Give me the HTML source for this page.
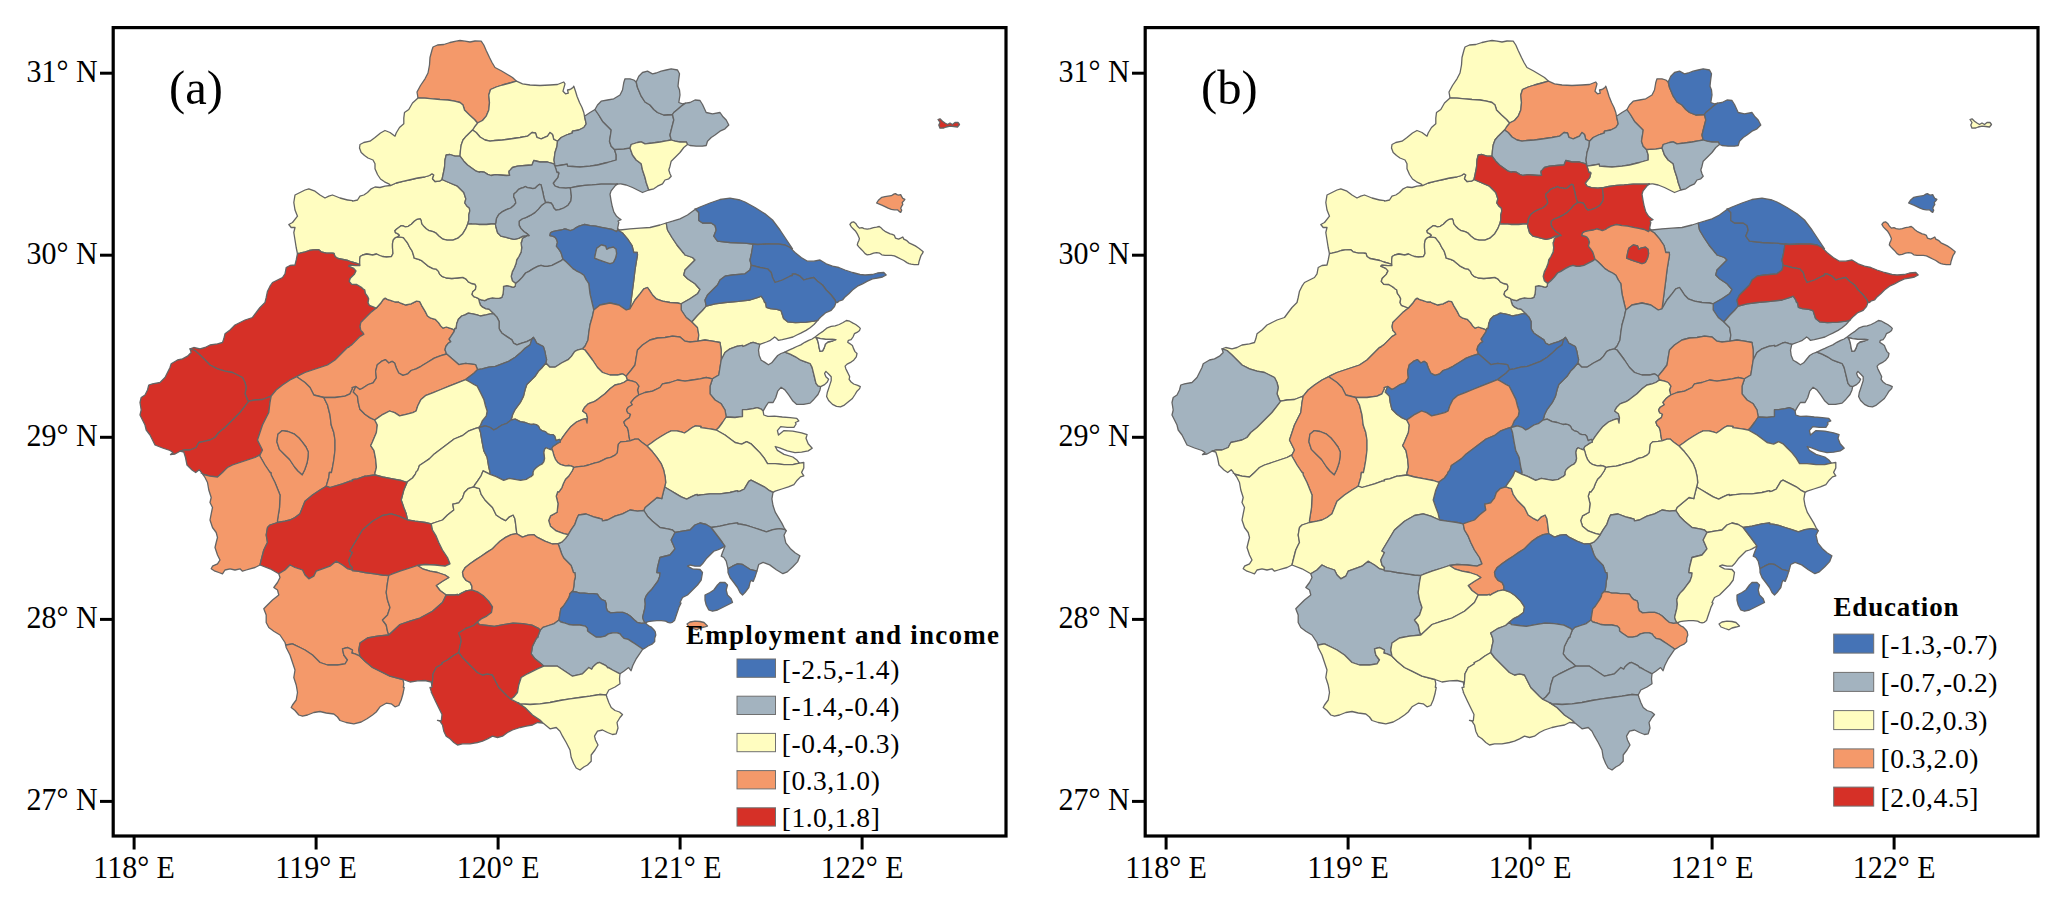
<!DOCTYPE html>
<html><head><meta charset="utf-8"><style>
html,body{margin:0;padding:0;background:#fff;}
svg{display:block;}
.ax{font-family:"Liberation Serif",serif;font-size:30px;fill:#000;}
.lt{font-family:"Liberation Serif",serif;font-size:27px;font-weight:bold;fill:#000;}
.ll{font-family:"Liberation Serif",serif;font-size:27.5px;fill:#000;}
.pl{font-family:"Liberation Serif",serif;font-size:48.5px;fill:#000;}
</style></head><body>
<svg width="2067" height="908" viewBox="0 0 2067 908">
<rect width="2067" height="908" fill="#fff"/>
<g transform="translate(0,0)" stroke="#646464" stroke-width="1.3" stroke-linejoin="round">
<path d="M347.7,200.0L347.5,200.0L340.0,198.0L332.5,195.0L328.8,196.2L325.0,198.0L320.0,195.0L315.0,191.2L308.8,188.8L305.0,190.0L300.0,192.5L295.0,195.0L293.8,202.5L295.0,210.0L297.5,216.2L292.5,222.5L288.8,224.5L291.2,227.5L295.0,227.5L293.8,232.5L295.0,240.0L296.2,247.5L297.2,252.5L297.5,253.5L297.5,253.5L300.0,253.1L305.3,251.8L309.3,250.5L313.2,249.8L318.5,249.6L321.1,251.8L326.4,253.1L329.0,253.1L331.7,253.1L332.5,253.4L332.6,253.2L334.0,253.5L335.0,256.5L337.9,258.5L342.9,259.5L347.8,260.5L351.8,262.0L356.8,263.4L359.7,264.5L359.7,259.5L360.2,256.5L362.7,255.0L366.7,254.0L369.7,254.5L372.6,255.0L376.6,254.0L379.6,255.5L382.5,256.5L386.5,257.0L391.5,256.5L393.0,253.5L392.5,247.6L392.5,243.6L393.4,239.7L395.4,237.7L397.4,237.2L399.4,235.2L398.4,234.2L395.4,232.7L394.9,230.7L396.4,229.2L398.4,227.8L401.4,225.6L403.4,226.0L405.3,226.8L408.3,226.3L411.3,224.3L414.3,221.3L417.2,219.3L420.2,218.8L421.2,220.8L421.7,223.8L424.2,226.8L426.2,228.7L429.1,230.7L433.1,231.7L436.1,233.2L439.1,236.2L443.0,239.2L447.0,240.2L452.9,240.2L457.9,238.2L462.8,233.7L465.8,228.7L467.8,223.8L468.8,219.8L468.8,214.9L469.8,210.9L469.3,207.9L466.8,205.9L464.8,203.0L465.0,202.1L465.8,199.0L465.9,199.0L463.8,192.5L457.5,186.2L450.0,183.0L442.0,179.5L439.5,181.2L435.0,181.5L432.5,178.8L433.8,175.0L432.0,173.8L429.5,175.5L424.5,177.0L417.5,178.0L411.2,179.5L403.8,181.2L396.2,183.0L390.5,185.5L385.0,186.2L380.0,187.5L375.0,187.0L371.2,188.8L367.5,192.5L363.8,195.0L360.0,196.2L357.5,200.0L352.6,201.2L352.5,200.7Z" fill="#FFFDC0"/>
<path d="M516.5,81.2L512.5,77.5L507.5,74.5L501.2,70.8L495.0,67.5L492.0,62.5L489.5,57.5L486.2,50.5L483.8,45.0L481.2,41.2L475.0,41.0L470.0,42.0L465.0,41.2L460.0,40.5L456.2,41.2L450.0,42.5L443.8,44.5L437.5,45.0L433.0,47.0L432.0,50.0L430.0,57.5L429.5,65.0L428.0,73.0L425.0,78.8L420.5,85.5L417.0,92.0L418.0,98.0L425.0,98.2L432.5,98.8L440.0,99.5L448.0,100.0L454.5,101.2L460.0,102.5L463.0,105.0L464.5,110.0L469.5,115.0L474.5,119.5L477.5,123.0L482.5,120.5L486.2,116.2L488.8,110.0L489.5,102.5L488.8,95.0L490.5,89.5L496.2,87.0L502.5,85.0L510.0,83.0Z" fill="#F4996A"/>
<path d="M570.0,89.5L567.5,90.0L568.3,93.1L565.5,93.8L563.0,91.2L565.0,83.8L563.8,82.0L557.5,84.5L550.0,85.0L540.0,85.5L530.0,85.0L522.5,83.8L516.5,81.2L510.0,83.0L502.5,85.0L496.2,87.0L490.5,89.5L488.8,95.0L489.5,102.5L488.8,110.0L486.2,116.2L482.5,120.5L477.5,123.0L475.0,126.2L472.5,130.0L476.2,132.5L480.0,137.0L485.0,140.0L490.0,141.2L495.0,140.5L502.5,140.0L510.0,139.0L520.0,137.5L527.5,136.2L532.0,132.5L535.5,133.0L537.0,137.5L541.2,138.8L547.5,136.2L550.0,132.5L552.5,134.5L553.8,139.5L557.5,141.2L561.2,137.5L567.5,134.5L568.2,134.3L572.5,132.8L572.3,131.3L572.5,131.2L578.8,130.0L583.8,127.5L586.2,123.8L584.5,116.2L583.8,112.5L582.0,107.5L579.5,102.5L577.0,96.2L575.5,91.2L573.8,86.2L573.0,87.5L571.4,88.6Z" fill="#FFFDC0"/>
<path d="M418.0,98.0L412.5,103.0L408.8,109.5L404.5,112.5L403.8,118.0L403.8,123.8L399.5,127.5L396.2,133.0L395.0,136.2L390.0,132.5L385.0,130.5L380.5,133.0L375.0,137.5L370.0,141.2L363.8,142.5L360.0,144.5L359.5,148.0L361.2,152.5L364.5,155.5L368.0,158.0L373.0,160.0L375.0,163.8L375.0,168.8L377.5,174.5L380.5,179.0L384.5,181.8L388.8,183.8L390.5,185.5L396.2,183.0L403.8,181.2L411.2,179.5L417.5,178.0L424.5,177.0L429.5,175.5L432.0,173.8L433.8,175.0L432.5,178.8L435.0,181.5L439.5,181.2L442.0,179.5L443.0,175.0L444.5,167.5L445.0,160.0L446.2,155.0L450.0,154.5L455.0,156.2L460.0,156.2L460.5,150.0L461.2,145.0L463.0,140.0L466.2,136.2L470.0,132.5L472.5,130.0L475.0,126.2L477.5,123.0L474.5,119.5L469.5,115.0L464.5,110.0L463.0,105.0L460.0,102.5L454.5,101.2L448.0,100.0L440.0,99.5L432.5,98.8L425.0,98.2Z" fill="#FFFDC0"/>
<path d="M470.0,132.5L466.2,136.2L463.0,140.0L461.2,145.0L460.5,150.0L460.0,156.2L463.8,161.2L467.5,165.0L472.0,168.2L476.2,171.2L479.8,172.3L480.0,171.7L482.6,172.0L484.4,172.2L487.7,174.4L491.0,175.5L495.4,174.6L499.8,175.0L506.4,175.5L509.7,175.3L509.2,173.3L509.0,172.5L509.2,172.5L509.0,171.2L510.3,169.9L512.5,167.5L517.5,166.2L525.0,165.5L532.0,165.0L533.8,160.5L540.0,162.0L547.5,162.0L553.8,163.8L555.0,166.2L554.0,160.0L555.0,152.5L557.0,146.2L557.5,141.2L553.8,139.5L552.5,134.5L550.0,132.5L547.5,136.2L541.2,138.8L537.0,137.5L535.5,133.0L532.0,132.5L527.5,136.2L520.0,137.5L510.0,139.0L502.5,140.0L495.0,140.5L490.0,141.2L485.0,140.0L480.0,137.0L476.2,132.5L472.5,130.0Z" fill="#FFFDC0"/>
<path d="M567.5,134.5L561.2,137.5L557.5,141.2L557.0,146.2L555.0,152.5L554.0,160.0L555.0,166.2L562.5,165.0L567.2,164.2L567.5,166.2L572.4,166.5L580.0,167.0L590.0,166.2L597.5,165.0L607.5,162.5L616.2,160.0L616.2,155.0L614.5,149.5L611.2,146.2L609.5,141.2L610.5,135.0L611.2,130.0L607.5,126.2L602.5,121.2L598.8,115.0L595.0,109.5L590.0,112.5L584.5,116.2L586.2,123.8L583.8,127.5L578.8,130.0L572.5,131.2L572.3,131.3L572.5,132.8L568.2,134.3Z" fill="#A3B3BF"/>
<path d="M558.8,173.3L557.7,177.7L554.9,181.0L553.2,183.2L554.9,186.0L559.3,187.6L565.9,188.2L570.3,187.7L570.3,187.7L571.4,187.6L576.9,186.5L584.6,185.4L592.3,184.9L601.2,184.1L610.0,184.1L616.6,183.8L617.1,183.7L617.4,184.1L617.5,184.2L620.0,183.8L620.8,183.9L626.2,185.0L632.5,187.5L637.5,190.0L642.5,192.5L648.8,190.0L646.2,182.5L645.0,177.5L642.5,170.0L641.2,163.8L636.2,160.0L632.5,155.0L630.0,148.0L623.8,148.8L614.5,149.5L616.2,155.0L616.2,160.0L607.5,162.5L597.5,165.0L590.0,166.2L580.0,167.0L572.4,166.5L567.5,166.2L567.2,164.2L562.5,165.0L555.0,166.2L556.1,169.6L557.0,172.5L558.6,172.3Z" fill="#A3B3BF"/>
<path d="M479.8,172.3L476.2,171.2L472.0,168.2L467.5,165.0L463.8,161.2L460.0,156.2L455.0,156.2L450.0,154.5L446.2,155.0L445.0,160.0L444.5,167.5L443.0,175.0L442.0,179.5L450.0,183.0L457.5,186.2L463.8,192.5L465.9,199.0L465.8,199.0L465.0,202.1L464.8,203.0L466.8,205.9L469.3,207.9L469.8,210.9L468.8,214.9L468.8,219.8L467.8,223.8L471.8,224.0L475.7,224.1L478.9,224.4L478.9,224.5L480.0,224.5L480.7,224.6L480.7,224.5L486.6,224.5L491.0,224.0L495.4,224.0L496.0,222.9L496.5,218.5L498.7,214.6L502.0,211.9L506.4,209.7L510.8,208.0L514.1,205.2L515.8,203.0L515.2,199.7L513.6,196.4L514.1,193.7L516.3,192.0L518.6,189.3L521.3,188.2L523.5,187.6L525.2,186.5L527.4,187.6L530.7,188.2L532.9,188.7L535.1,188.2L537.3,186.0L539.5,184.3L541.1,184.9L541.7,187.6L542.8,192.0L543.9,197.5L545.5,202.5L548.3,202.5L551.0,203.0L552.7,205.2L553.8,208.0L556.0,210.2L559.3,209.7L563.7,208.0L568.1,205.2L570.9,200.8L571.4,196.4L570.9,192.0L570.3,187.7L570.3,187.7L565.9,188.2L559.3,187.6L554.9,186.0L553.2,183.2L554.9,181.0L557.7,177.7L558.8,173.3L558.6,172.3L557.0,172.5L556.1,169.6L555.0,166.2L553.8,163.8L547.5,162.0L540.0,162.0L533.8,160.5L532.0,165.0L525.0,165.5L517.5,166.2L512.5,167.5L510.3,169.9L509.0,171.2L509.2,172.5L509.0,172.5L509.2,173.3L509.7,175.3L506.4,175.5L499.8,175.0L495.4,174.6L491.0,175.5L487.7,174.4L484.4,172.2L482.6,172.0L480.0,171.7Z" fill="#A3B3BF"/>
<path d="M636.2,82.0L633.8,80.0L630.0,78.8L625.0,78.8L623.8,82.5L622.5,90.0L620.0,95.0L613.8,98.8L607.5,100.0L601.2,101.2L597.5,105.0L595.0,109.5L598.8,115.0L602.5,121.2L607.5,126.2L611.2,130.0L610.5,135.0L609.5,141.2L611.2,146.2L614.5,149.5L623.8,148.8L630.0,148.0L631.2,144.5L637.5,142.5L641.2,141.8L645.0,143.8L652.5,143.0L660.0,142.0L666.2,140.8L671.2,140.0L670.0,135.0L671.2,130.0L672.5,125.0L673.8,120.0L672.5,114.5L663.8,115.0L657.5,112.5L653.8,109.5L650.0,105.0L645.0,102.0L641.2,96.2L637.5,87.5Z" fill="#A3B3BF"/>
<path d="M685.5,103.2L682.5,103.8L678.8,102.5L680.0,95.0L679.5,90.0L678.0,86.2L678.8,78.8L679.5,73.8L677.5,70.0L671.2,68.8L666.2,70.0L661.2,71.2L656.2,73.0L652.5,73.8L647.5,71.2L642.5,72.5L638.8,76.2L636.2,82.0L637.5,87.5L641.2,96.2L645.0,102.0L650.0,105.0L653.8,109.5L657.5,112.5L663.8,115.0L672.5,114.5L673.8,112.5L677.5,109.5L681.2,106.2Z" fill="#A3B3BF"/>
<path d="M687.5,144.5L690.0,145.5L696.2,146.2L702.5,146.2L706.2,145.5L707.5,141.2L711.2,137.5L715.0,135.0L720.0,131.2L725.0,128.8L728.8,125.0L726.2,120.0L722.5,116.2L720.0,112.5L712.5,113.8L706.2,112.5L702.5,104.5L700.0,100.5L695.0,100.0L690.0,102.5L685.5,103.2L681.2,106.2L677.5,109.5L673.8,112.5L672.5,114.5L673.8,120.0L672.5,125.0L671.2,130.0L670.0,135.0L671.2,140.0L675.0,141.2L680.0,142.0L686.2,141.8Z" fill="#A3B3BF"/>
<path d="M648.8,190.0L653.8,188.8L657.5,186.2L662.5,183.8L665.0,180.0L668.8,178.8L671.2,176.2L670.0,173.8L668.8,170.0L670.0,166.2L671.2,161.2L675.0,157.5L680.0,152.5L683.8,147.5L687.5,144.5L686.2,141.8L680.0,142.0L675.0,141.2L671.2,140.0L666.2,140.8L660.0,142.0L652.5,143.0L645.0,143.8L641.2,141.8L637.5,142.5L631.2,144.5L630.0,148.0L632.5,155.0L636.2,160.0L641.2,163.8L642.5,170.0L645.0,177.5L646.2,182.5Z" fill="#FFFDC0"/>
<path d="M621.0,219.6L619.3,218.5L619.0,218.2L616.6,216.3L613.8,211.9L612.2,206.3L611.1,200.8L610.0,194.2L611.1,190.9L615.5,185.4L617.4,184.1L617.1,183.7L616.6,183.8L610.0,184.1L601.2,184.1L592.3,184.9L584.6,185.4L576.9,186.5L571.4,187.6L570.3,187.7L570.9,192.0L571.4,196.4L570.9,200.8L568.1,205.2L563.7,208.0L559.3,209.7L556.0,210.2L553.8,208.0L552.7,205.2L551.0,203.0L548.3,202.5L545.5,202.5L541.7,205.2L538.4,209.1L535.1,212.4L530.7,215.2L526.3,217.4L521.9,219.0L519.1,221.2L519.1,225.1L520.8,228.4L524.1,231.7L527.4,233.9L529.0,235.5L527.4,235.5L526.2,235.7L526.3,236.1L522.4,238.3L522.2,239.2L521.4,242.5L521.1,242.5L521.1,243.3L521.7,247.7L521.1,252.1L518.9,256.5L516.7,259.8L516.2,263.1L514.5,267.5L512.3,271.9L511.2,276.3L512.3,280.7L515.6,283.5L518.9,280.7L522.2,277.4L525.6,273.0L528.9,271.4L533.3,268.6L537.7,266.4L541.0,265.3L544.3,266.4L547.6,266.4L552.0,265.3L556.4,263.1L560.8,260.9L563.0,259.3L561.9,255.4L560.8,252.1L558.6,248.8L556.4,246.1L557.4,242.6L557.5,242.2L556.4,238.9L556.3,239.0L554.9,237.2L552.7,236.1L549.9,235.5L550.5,232.8L552.7,231.7L557.1,230.6L561.5,230.0L564.8,228.9L567.0,229.5L570.3,230.6L573.6,229.5L575.8,227.8L579.1,226.2L582.4,225.1L584.6,224.5L590.1,225.6L595.7,226.2L601.2,227.3L606.7,228.4L612.2,229.5L616.6,231.7L617.6,230.0L617.5,230.0L618.0,229.0L617.5,228.8L618.8,222.5L618.0,221.0Z" fill="#A3B3BF"/>
<path d="M633.8,252.5L637.3,252.3L637.5,255.0L636.2,262.5L635.0,270.0L633.8,280.0L632.5,290.0L631.2,300.0L630.0,308.8L635.0,300.0L640.0,293.8L643.8,288.8L647.5,287.5L650.0,291.2L652.5,295.0L656.2,298.8L662.5,301.2L670.0,302.5L677.5,303.0L681.2,303.8L690.0,298.8L697.5,293.8L700.0,289.5L695.0,283.8L687.5,278.8L683.8,275.0L685.0,270.0L690.0,265.0L695.0,260.0L692.5,257.5L685.0,255.0L683.2,252.3L682.8,252.5L682.0,251.2L679.4,248.0L677.0,245.0L672.0,237.5L667.5,230.0L666.2,223.0L660.0,225.0L650.0,227.5L640.0,228.2L630.0,228.8L620.0,230.0L618.0,229.0L617.5,230.0L617.6,230.0L622.5,233.0L627.5,238.8L632.0,245.5L632.8,248.6Z" fill="#FFFDC0"/>
<path d="M682.0,251.2L682.8,252.5L683.2,252.3L685.0,255.0L692.5,257.5L695.0,260.0L690.0,265.0L685.0,270.0L683.8,275.0L687.5,278.8L695.0,283.8L700.0,289.5L697.5,293.8L690.0,298.8L681.2,303.8L681.2,310.0L686.2,317.5L691.9,322.0L692.5,321.2L697.5,315.5L702.5,310.5L706.2,306.2L705.0,300.0L707.5,295.0L712.5,290.0L717.5,285.0L720.0,280.0L725.0,276.2L732.5,275.0L745.0,273.8L750.0,270.0L751.2,265.3L751.2,265.0L750.0,260.0L751.2,255.0L752.5,247.5L752.8,244.0L745.0,243.2L730.0,242.5L717.5,241.2L713.8,236.2L716.2,230.0L715.0,225.5L711.2,223.0L702.5,223.0L698.8,220.5L698.8,212.5L695.5,209.2L695.0,208.8L695.3,209.4L695.0,209.5L687.5,215.0L680.0,218.8L672.5,221.2L666.2,223.0L667.5,230.0L672.0,237.5L677.0,245.0L679.4,248.0Z" fill="#A3B3BF"/>
<path d="M792.5,248.8L790.0,245.0L785.0,237.5L780.0,230.0L772.5,220.0L765.0,213.8L755.0,207.5L745.0,202.0L740.0,200.0L730.0,198.2L720.0,199.5L710.0,203.0L700.0,207.0L695.5,209.2L698.8,212.5L698.8,220.5L702.5,223.0L711.2,223.0L715.0,225.5L716.2,230.0L713.8,236.2L717.5,241.2L730.0,242.5L745.0,243.2L752.8,244.0L757.5,244.5L767.5,244.0L777.5,243.8L785.0,245.0L790.0,247.5L791.9,249.4Z" fill="#4573B6"/>
<path d="M627.5,238.8L622.5,233.0L617.6,230.0L616.6,231.7L612.2,229.5L606.7,228.4L601.2,227.3L595.7,226.2L590.1,225.6L584.6,224.5L582.4,225.1L579.1,226.2L575.8,227.8L573.6,229.5L570.3,230.6L567.0,229.5L564.8,228.9L561.5,230.0L557.1,230.6L552.7,231.7L550.5,232.8L549.9,235.5L552.7,236.1L554.9,237.2L556.3,239.0L556.4,238.9L557.5,242.2L557.4,242.6L556.4,246.1L558.6,248.8L560.8,252.1L561.9,255.4L563.0,259.3L566.3,262.0L569.6,265.3L572.9,268.6L576.2,270.8L580.6,273.0L583.9,275.2L586.1,279.6L586.7,280.5L588.3,283.0L588.5,283.0L588.8,283.8L589.7,291.4L590.0,293.8L592.0,302.5L593.1,307.2L593.8,310.0L600.0,305.0L610.0,303.0L618.8,305.0L626.2,310.0L630.0,308.8L631.2,300.0L632.5,290.0L633.8,280.0L635.0,270.0L636.2,262.5L637.5,255.0L637.3,252.3L633.8,252.5L632.8,248.6L632.0,245.5ZM596.8,248.2L601.2,244.9L605.6,246.0L606.7,249.3L608.9,248.2L613.3,247.1L616.0,249.3L616.6,253.7L615.5,258.1L613.3,262.5L610.0,263.6L606.7,262.5L603.4,261.4L599.0,259.8L594.6,258.1L595.7,252.6Z" fill="#4573B6"/>
<path d="M777.5,243.8L767.5,244.0L757.5,244.5L752.8,244.0L752.5,247.5L751.2,255.0L750.0,260.0L751.2,265.0L751.2,265.3L751.8,265.4L760.0,267.5L767.5,268.8L771.2,272.5L772.5,277.5L775.0,282.5L782.5,280.0L788.5,277.0L790.0,276.2L792.5,275.5L792.3,274.2L795.0,273.8L800.0,276.2L803.8,280.0L807.5,278.8L813.8,277.5L817.5,281.2L822.5,285.0L826.2,290.0L831.2,295.0L835.0,300.0L835.8,302.5L836.0,302.6L836.2,302.0L837.5,302.5L838.8,301.2L842.5,300.0L844.5,297.5L848.8,293.8L852.5,290.0L857.5,286.2L862.5,283.8L867.5,281.2L872.5,278.8L877.5,278.0L882.5,277.0L886.2,275.0L883.8,272.5L877.5,273.0L872.5,274.5L865.0,275.0L860.0,274.5L852.5,272.5L845.0,270.0L838.8,267.5L832.5,266.2L826.2,263.8L820.0,260.0L813.8,261.2L807.5,261.2L801.2,257.5L795.0,252.5L791.9,249.4L790.0,247.5L785.0,245.0Z" fill="#4573B6"/>
<path d="M938.0,119.5L940.0,122.5L938.8,125.0L940.0,128.2L943.8,128.0L946.2,127.0L950.0,126.2L953.8,126.5L957.5,127.0L959.5,124.5L958.0,122.5L955.0,122.5L952.5,124.5L950.0,123.0L947.5,124.5L945.0,123.0L942.5,121.2L940.0,118.8Z" fill="#D63027"/>
<path d="M592.0,302.5L590.0,293.8L589.7,291.4L588.8,283.8L588.5,283.0L588.3,283.0L586.7,280.5L586.1,279.6L583.9,275.2L580.6,273.0L576.2,270.8L572.9,268.6L569.6,265.3L566.3,262.0L563.0,259.3L560.8,260.9L556.4,263.1L552.0,265.3L547.6,266.4L544.3,266.4L541.0,265.3L537.7,266.4L533.3,268.6L528.9,271.4L525.6,273.0L522.2,277.4L518.9,280.7L515.6,283.5L515.1,286.3L513.4,287.4L510.1,286.3L506.8,285.7L503.5,286.3L503.5,289.6L503.0,294.0L501.9,297.3L499.1,298.4L495.8,298.4L492.5,297.8L488.1,298.9L484.8,300.6L481.5,300.0L478.7,298.9L479.3,301.7L480.4,305.0L482.6,307.2L485.9,308.8L489.2,309.4L492.5,312.7L493.6,313.8L496.9,317.1L499.1,321.5L499.1,328.1L499.1,328.2L499.7,329.9L501.4,332.4L502.0,333.3L506.9,336.6L511.9,339.9L513.6,343.2L516.9,344.9L521.8,343.2L526.8,341.6L531.7,339.1L533.4,337.4L535.0,339.9L536.7,343.2L540.0,344.9L543.3,346.5L544.9,351.5L545.8,356.4L546.6,359.7L545.8,363.0L549.9,367.2L554.9,367.2L561.5,363.0L568.1,359.7L571.4,356.4L574.6,351.6L574.7,351.5L575.4,351.1L577.5,350.0L579.0,349.6L582.5,348.8L585.0,346.2L588.0,340.0L588.8,332.5L590.0,325.0L591.6,319.3L592.5,316.2L592.9,314.1L593.8,310.0L593.1,307.2Z" fill="#A3B3BF"/>
<path d="M590.0,325.0L588.8,332.5L588.0,340.0L585.0,346.2L582.5,348.8L585.0,350.0L588.8,355.0L592.5,360.0L597.5,367.5L602.5,372.5L610.0,375.0L617.5,375.0L622.5,373.8L626.2,376.2L631.2,370.0L635.0,365.0L636.2,357.5L637.5,350.0L642.5,345.0L650.0,340.0L657.5,338.0L665.0,337.5L672.5,336.2L680.0,337.0L685.0,341.2L690.0,342.0L698.0,341.2L698.8,335.0L697.5,327.5L692.5,322.5L691.9,322.0L686.2,317.5L681.2,310.0L681.2,303.8L677.5,303.0L670.0,302.5L662.5,301.2L656.2,298.8L652.5,295.0L650.0,291.2L647.5,287.5L643.8,288.8L640.0,293.8L635.0,300.0L630.0,308.8L626.2,310.0L618.8,305.0L610.0,303.0L600.0,305.0L593.8,310.0L592.9,314.1L592.5,316.2L591.6,319.3Z" fill="#F4996A"/>
<path d="M577.5,350.0L575.4,351.1L574.7,351.5L574.6,351.6L571.4,356.4L568.1,359.7L561.5,363.0L554.9,367.2L549.9,367.2L545.8,363.0L541.6,368.0L538.3,371.3L535.0,376.3L531.7,379.6L526.8,384.5L525.1,389.5L523.5,396.1L520.2,402.7L515.2,409.3L512.7,414.3L511.1,420.0L515.2,419.2L520.2,421.7L525.1,422.5L529.5,424.0L530.1,424.2L531.1,424.5L532.4,424.3L533.1,424.2L536.2,424.6L538.5,426.2L540.0,429.2L542.3,430.8L545.4,431.6L547.7,433.9L550.0,434.6L553.1,434.6L554.7,436.2L555.4,438.5L556.2,440.8L557.7,440.0L559.3,439.3L560.1,440.8L560.1,441.1L561.6,438.9L563.3,436.3L566.6,431.9L571.0,426.4L576.5,422.0L582.0,419.6L585.9,418.7L587.0,423.1L587.5,417.6L586.4,413.8L582.6,411.0L584.8,407.2L588.1,403.9L591.9,402.4L592.8,402.1L595.1,401.1L595.2,401.1L595.3,401.0L596.9,399.9L600.0,397.5L605.0,393.8L610.0,388.8L615.0,385.0L620.0,383.8L623.8,382.5L627.5,380.0L626.2,376.2L622.5,373.8L617.5,375.0L610.0,375.0L602.5,372.5L597.5,367.5L592.5,360.0L588.8,355.0L585.0,350.0L582.5,348.8L579.0,349.6Z" fill="#FFFDC0"/>
<path d="M750.0,300.0L740.0,301.2L738.4,301.4L725.0,302.5L715.0,303.8L706.2,306.2L702.5,310.5L697.5,315.5L692.5,321.2L691.9,322.0L692.5,322.5L697.5,327.5L698.8,335.0L698.0,341.2L705.0,340.0L712.5,341.2L720.0,342.5L721.2,350.0L721.2,360.0L725.0,352.5L730.0,348.8L737.5,346.2L738.4,346.1L742.5,345.4L742.9,346.5L745.3,345.6L750.6,343.0L753.2,342.3L757.2,343.6L759.8,344.3L762.5,343.4L766.4,342.0L770.4,340.3L773.1,338.3L774.6,337.0L776.4,338.3L778.3,340.3L782.3,339.7L787.6,338.3L792.9,337.0L796.8,335.0L800.8,333.1L806.1,330.4L810.1,327.8L814.0,324.5L818.0,320.1L814.0,321.2L806.1,322.2L795.5,322.7L787.6,321.8L783.6,318.5L782.3,314.5L781.0,310.6L777.0,309.3L770.4,308.6L766.4,307.3L765.8,304.0L765.6,302.4L764.6,302.5L763.8,300.0L763.6,299.7L761.2,296.2L758.1,297.3Z" fill="#FFFDC0"/>
<path d="M715.0,303.8L725.0,302.5L738.4,301.4L740.0,301.2L750.0,300.0L758.1,297.3L761.2,296.2L763.6,299.7L763.8,300.0L764.6,302.5L765.6,302.4L765.8,304.0L766.4,307.3L770.4,308.6L777.0,309.3L781.0,310.6L782.3,314.5L783.6,318.5L787.6,321.8L795.5,322.7L806.1,322.2L814.0,321.2L818.0,320.1L819.3,318.5L822.0,315.9L825.9,312.6L831.2,310.3L834.5,306.6L836.0,302.6L835.8,302.5L835.0,300.0L831.2,295.0L826.2,290.0L822.5,285.0L817.5,281.2L813.8,277.5L807.5,278.8L803.8,280.0L800.0,276.2L795.0,273.8L792.3,274.2L792.5,275.5L790.0,276.2L788.5,277.0L782.5,280.0L775.0,282.5L772.5,277.5L771.2,272.5L767.5,268.8L760.0,267.5L751.8,265.4L751.2,265.3L750.0,270.0L745.0,273.8L732.5,275.0L725.0,276.2L720.0,280.0L717.5,285.0L712.5,290.0L707.5,295.0L705.0,300.0L706.2,306.2Z" fill="#4573B6"/>
<path d="M698.0,341.2L690.0,342.0L685.0,341.2L680.0,337.0L672.5,336.2L665.0,337.5L657.5,338.0L650.0,340.0L642.5,345.0L637.5,350.0L636.2,357.5L635.0,365.0L631.2,370.0L626.2,376.2L627.5,380.0L632.5,381.2L636.2,382.5L638.8,386.2L637.5,390.0L638.8,395.0L645.0,392.5L652.5,391.2L660.0,387.5L662.5,383.8L670.0,382.5L677.5,380.0L685.0,381.2L692.5,380.0L700.0,378.8L706.2,377.5L712.5,378.8L718.8,375.0L720.0,367.5L721.2,360.0L721.2,350.0L720.0,342.5L712.5,341.2L705.0,340.0Z" fill="#F4996A"/>
<path d="M737.5,346.2L730.0,348.8L725.0,352.5L721.2,360.0L720.0,367.5L718.8,375.0L712.5,378.8L710.0,386.2L710.0,393.8L715.0,400.0L721.2,403.8L725.0,410.0L726.2,417.0L735.0,417.5L739.6,416.9L742.5,416.6L742.5,409.7L746.6,409.7L753.2,408.7L757.2,407.7L761.2,409.1L763.1,411.1L765.8,406.4L768.4,402.5L773.1,402.5L775.7,397.8L777.7,391.2L781.0,387.3L784.9,389.9L788.9,395.2L792.9,401.1L796.8,404.4L803.5,404.4L810.1,403.1L814.0,399.2L818.0,394.5L820.0,389.9L820.6,386.6L818.0,385.9L816.0,383.3L814.7,378.0L813.4,372.7L812.1,367.4L810.1,363.5L806.1,362.1L800.8,360.2L795.5,356.8L790.2,354.2L784.9,352.2L781.0,353.5L777.7,355.5L774.4,359.5L771.7,362.8L768.4,364.8L764.5,362.1L761.2,360.2L759.2,355.5L758.5,350.2L759.8,344.3L757.2,343.6L753.2,342.3L750.6,343.0L745.3,345.6L742.9,346.5L742.5,345.4L738.4,346.1Z" fill="#A3B3BF"/>
<path d="M591.9,402.4L588.1,403.9L584.8,407.2L582.6,411.0L586.4,413.8L587.5,417.6L587.0,423.1L585.9,418.7L582.0,419.6L576.5,422.0L571.0,426.4L566.6,431.9L563.3,436.3L561.6,438.9L560.1,441.1L560.4,442.0L559.3,442.5L557.7,443.1L555.4,444.7L553.1,446.2L551.6,448.5L552.4,450.1L553.1,452.4L553.9,455.5L555.4,459.3L557.7,462.4L559.2,463.5L560.4,464.4L562.2,465.0L562.7,465.1L565.5,465.8L568.8,465.5L571.6,466.1L573.8,467.4L575.4,467.2L578.7,466.6L584.2,466.1L588.6,465.0L591.9,463.9L595.2,462.8L598.6,462.2L601.9,460.6L606.3,458.4L610.7,457.3L615.1,455.1L617.3,452.9L617.8,448.5L618.4,444.1L620.6,441.9L626.1,441.3L629.9,440.8L628.8,435.2L628.3,430.8L627.2,427.5L625.0,425.3L623.9,422.0L626.1,419.8L629.4,417.6L630.5,414.3L627.7,412.7L626.6,409.9L628.3,407.2L632.3,404.7L630.9,402.5L633.8,398.8L637.2,396.1L638.8,395.0L637.5,390.0L638.8,386.2L636.2,382.5L632.5,381.2L627.5,380.0L623.8,382.5L620.0,383.8L615.0,385.0L610.0,388.8L605.0,393.8L600.0,397.5L596.9,399.9L595.3,401.0L595.2,401.1L595.1,401.1L592.8,402.1Z" fill="#F4996A"/>
<path d="M633.8,398.8L630.9,402.5L632.3,404.7L628.3,407.2L626.6,409.9L627.7,412.7L630.5,414.3L629.4,417.6L626.1,419.8L623.9,422.0L625.0,425.3L627.2,427.5L628.3,430.8L628.8,435.2L629.9,440.8L634.9,439.1L638.2,439.1L641.5,441.9L647.0,446.0L651.4,443.0L655.8,439.7L661.3,436.3L666.8,433.0L671.2,430.8L676.8,430.8L681.2,431.9L684.5,433.0L687.8,430.8L692.2,427.5L695.5,425.9L697.7,426.1L701.0,426.4L700.8,427.6L710.0,428.8L716.2,430.0L718.8,427.5L722.5,422.5L726.2,417.0L725.0,410.0L721.2,403.8L715.0,400.0L710.0,393.8L710.0,386.2L712.5,378.8L706.2,377.5L700.0,378.8L692.5,380.0L685.0,381.2L677.5,380.0L670.0,382.5L662.5,383.8L660.0,387.5L652.5,391.2L645.0,392.5L638.8,395.0L637.2,396.1Z" fill="#F4996A"/>
<path d="M798.8,421.0L796.8,418.3L790.2,417.7L782.3,417.0L774.4,416.1L769.2,416.3L767.8,416.3L763.8,415.0L763.1,411.1L761.2,409.1L757.2,407.7L753.2,408.7L746.6,409.7L742.5,409.7L742.5,416.6L739.6,416.9L735.0,417.5L726.2,417.0L722.5,422.5L718.8,427.5L716.2,430.0L725.0,435.0L735.0,442.5L738.4,443.3L741.6,444.1L742.2,443.8L746.6,441.6L751.0,443.8L755.4,448.2L759.8,452.6L764.2,458.1L767.5,463.6L775.2,463.6L784.0,464.7L792.8,464.7L799.4,463.2L797.2,460.3L792.8,457.0L784.0,454.4L777.4,450.4L775.2,446.5L779.6,447.8L787.3,450.9L795.0,452.6L801.6,452.2L808.2,450.9L812.2,448.2L808.2,443.8L806.0,438.3L807.1,434.6L801.6,432.8L792.8,431.1L784.0,430.6L778.5,435.0L777.4,430.6L780.7,426.7L787.3,427.3L793.9,427.3L796.1,424.0L795.4,422.5Z" fill="#FFFDC0"/>
<path d="M697.7,426.1L695.5,425.9L692.2,427.5L687.8,430.8L684.5,433.0L681.2,431.9L676.8,430.8L671.2,430.8L666.8,433.0L661.3,436.3L655.8,439.7L651.4,443.0L647.0,446.0L652.5,451.8L656.9,457.3L661.3,463.9L663.5,469.4L665.2,477.1L665.7,482.6L664.6,487.0L670.1,490.3L675.7,493.6L681.2,496.9L686.7,499.1L691.1,496.9L695.5,494.9L697.2,494.5L697.5,495.5L700.0,495.0L701.2,494.9L710.0,493.8L720.0,493.8L730.0,492.5L737.6,490.6L737.8,491.6L740.0,491.2L744.4,489.0L744.8,488.2L748.8,481.3L751.0,480.2L755.4,482.4L759.8,484.6L764.2,486.8L768.6,490.1L773.0,492.3L775.2,491.2L781.8,489.0L788.4,486.8L793.9,484.6L797.2,480.2L800.5,476.9L803.8,475.8L801.6,472.4L803.8,468.0L803.8,462.5L799.4,463.2L792.8,464.7L784.0,464.7L775.2,463.6L767.5,463.6L764.2,458.1L759.8,452.6L755.4,448.2L751.0,443.8L746.6,441.6L742.2,443.8L741.6,444.1L738.4,443.3L735.0,442.5L725.0,435.0L716.2,430.0L710.0,428.8L700.8,427.6L701.0,426.4Z" fill="#FFFDC0"/>
<path d="M364.8,290.1L363.8,289.3L363.7,289.2L363.3,288.9L361.6,287.5L361.5,287.6L359.7,286.2L356.8,284.5L351.8,284.3L349.3,281.3L350.3,278.3L354.3,274.4L356.0,270.9L353.8,268.4L348.8,266.2L349.8,265.2L355.8,265.6L359.7,265.6L360.0,265.1L359.7,264.9L359.7,264.5L356.8,263.4L351.8,262.0L347.8,260.5L342.9,259.5L337.9,258.5L335.0,256.5L334.0,253.5L332.6,253.2L332.5,253.4L331.7,253.1L329.0,253.1L326.4,253.1L321.1,251.8L318.5,249.6L313.2,249.8L309.3,250.5L305.3,251.8L300.0,253.1L297.5,253.5L297.5,253.5L296.2,260.0L295.0,265.0L290.0,265.5L286.2,267.5L285.0,273.8L282.5,277.5L277.5,280.0L272.5,282.5L270.0,286.2L267.5,291.2L266.2,297.5L265.0,302.5L260.0,307.5L256.2,312.5L252.5,317.5L245.0,320.0L240.0,322.5L235.0,325.0L230.0,330.0L225.0,333.8L223.8,338.8L222.5,342.5L217.5,343.8L210.0,345.0L205.0,347.5L200.0,348.8L193.8,347.5L190.0,348.8L195.0,350.5L200.0,355.0L205.0,360.0L210.0,365.0L217.5,368.8L225.0,371.2L232.5,372.5L237.5,375.0L242.5,377.5L245.0,382.5L246.2,387.5L245.0,393.8L247.5,400.0L248.8,401.2L255.0,400.0L262.5,399.5L267.5,397.5L271.2,396.2L276.2,390.0L282.5,385.0L290.0,380.0L296.8,376.6L297.5,376.2L305.0,372.5L312.5,370.0L320.0,367.5L327.5,365.0L335.0,360.0L340.0,355.0L345.0,350.0L347.5,347.5L348.3,347.3L348.8,347.3L348.7,347.1L351.4,345.1L351.7,344.9L355.0,341.6L359.9,336.6L363.9,334.3L362.9,332.5L360.8,330.4L360.1,326.5L360.8,322.5L363.4,319.9L367.4,315.9L371.4,311.9L376.4,308.0L369.4,305.3L368.1,302.7L368.7,298.7L367.4,296.1L365.4,293.4L364.9,290.7Z" fill="#D63027"/>
<path d="M190.0,348.8L191.2,352.5L187.5,356.2L182.5,358.8L177.5,360.0L171.2,363.8L170.0,367.5L167.5,372.5L165.0,377.5L160.0,382.5L152.5,383.8L148.8,385.0L147.5,390.0L145.0,395.0L141.2,397.5L140.0,402.5L141.2,410.0L140.0,415.0L142.5,420.0L145.0,425.0L146.2,430.0L150.0,435.0L152.5,440.0L155.0,445.0L162.5,448.0L170.0,450.5L173.0,452.5L170.5,454.5L175.0,454.0L180.0,451.2L183.8,450.0L190.0,450.0L196.2,447.5L198.8,442.5L205.0,441.2L210.0,440.0L215.0,437.5L218.8,432.5L225.0,427.5L230.0,422.5L235.0,417.5L240.0,412.5L245.0,406.2L248.8,401.2L247.5,400.0L245.0,393.8L246.2,387.5L245.0,382.5L242.5,377.5L237.5,375.0L232.5,372.5L225.0,371.2L217.5,368.8L210.0,365.0L205.0,360.0L200.0,355.0L195.0,350.5Z" fill="#D63027"/>
<path d="M187.0,465.0L192.0,470.0L194.6,471.8L195.7,472.5L199.2,469.7L201.6,472.7L201.2,473.0L202.5,473.8L203.8,474.5L210.0,476.2L217.5,477.0L222.5,472.5L225.6,469.4L227.5,467.5L232.5,465.0L240.0,462.5L247.5,460.0L255.0,457.5L259.5,455.2L260.0,455.0L262.5,450.0L260.0,445.0L257.5,440.0L260.0,432.5L262.5,425.0L265.0,420.0L268.8,412.5L270.0,402.5L271.2,396.2L267.5,397.5L262.5,399.5L255.0,400.0L248.8,401.2L245.0,406.2L240.0,412.5L235.0,417.5L230.0,422.5L225.0,427.5L218.8,432.5L215.0,437.5L210.0,440.0L205.0,441.2L198.8,442.5L196.2,447.5L190.0,450.0L183.8,450.0L180.0,451.2L183.8,452.0L185.5,457.5Z" fill="#D63027"/>
<path d="M359.9,336.6L355.0,341.6L351.7,344.9L351.4,345.1L348.7,347.1L348.8,347.3L348.3,347.3L347.5,347.5L345.0,350.0L340.0,355.0L335.0,360.0L327.5,365.0L320.0,367.5L312.5,370.0L305.0,372.5L297.5,376.2L296.8,376.6L297.0,377.0L305.0,382.5L310.0,387.5L313.8,395.0L323.8,397.5L335.0,397.5L345.0,396.2L350.0,393.8L351.7,390.3L352.5,388.8L352.2,387.7L355.8,386.5L359.9,389.5L363.2,387.8L368.2,384.5L373.1,382.9L376.4,377.9L375.6,371.3L377.3,364.7L381.4,361.4L385.5,359.7L388.8,363.0L392.1,361.4L394.6,363.0L396.3,368.0L398.7,373.0L402.9,375.4L407.8,373.8L411.1,370.5L416.1,368.8L421.0,366.3L427.6,362.2L434.3,358.1L440.9,355.6L446.6,354.0L445.0,349.8L445.8,346.5L448.3,343.2L450.8,341.6L449.1,339.1L450.8,336.6L453.9,331.9L454.1,331.7L454.4,330.4L452.9,329.2L449.6,328.1L446.3,327.0L443.0,328.1L440.7,325.9L438.5,322.6L435.2,319.3L430.8,318.2L427.5,316.0L425.3,311.6L422.0,306.1L419.8,301.7L416.5,301.1L411.0,303.9L405.5,305.0L402.7,303.8L400.0,302.8L398.9,302.2L398.9,302.3L398.5,302.0L395.1,302.0L391.2,300.7L387.2,299.4L385.2,298.1L383.3,299.4L380.6,303.3L376.4,308.0L371.4,311.9L367.4,315.9L363.4,319.9L360.8,322.5L360.1,326.5L360.8,330.4L362.9,332.5L363.9,334.3Z" fill="#F4996A"/>
<path d="M282.5,385.0L276.2,390.0L271.2,396.2L270.0,402.5L268.8,412.5L265.0,420.0L262.5,425.0L260.0,432.5L257.5,440.0L260.0,445.0L262.5,450.0L260.0,455.0L259.5,455.2L260.0,456.2L265.0,465.0L267.7,469.0L270.0,472.5L270.8,472.4L271.2,475.0L275.0,482.5L280.0,495.0L279.5,507.5L277.5,520.0L277.5,522.5L285.0,521.2L290.0,520.0L295.0,517.5L300.0,513.8L302.5,507.5L305.0,501.2L312.5,495.0L320.0,490.0L326.2,486.2L328.8,477.5L329.4,472.3L331.4,472.5L332.4,468.0L332.5,467.5L333.8,460.0L335.0,450.0L335.0,440.0L333.8,432.5L331.2,425.0L330.0,415.0L327.5,405.0L323.8,397.5L313.8,395.0L310.0,387.5L305.0,382.5L297.0,377.0L296.8,376.6L290.0,380.0ZM294.6,434.2L299.0,438.0L302.2,441.8L306.0,447.0L308.3,452.0L308.0,457.0L307.3,462.0L306.0,466.0L304.7,469.7L302.2,474.7L298.0,471.0L294.6,467.0L289.6,459.5L284.5,454.5L279.4,449.4L276.9,441.8L277.9,434.2L282.0,430.7L288.0,431.5Z" fill="#F4996A"/>
<path d="M259.5,455.2L255.0,457.5L247.5,460.0L240.0,462.5L232.5,465.0L227.5,467.5L225.6,469.4L222.5,472.5L217.5,477.0L210.0,476.2L203.8,474.5L202.5,473.8L205.0,477.5L207.5,482.5L208.8,490.0L211.2,497.5L210.0,502.5L212.5,507.5L211.2,513.8L210.0,520.0L212.5,527.5L216.2,532.5L217.5,537.5L216.2,542.5L215.0,547.5L217.5,555.0L220.0,560.0L217.5,563.8L212.5,566.2L211.2,568.8L215.0,571.2L218.8,572.5L222.5,573.8L225.0,570.0L230.0,568.8L235.0,570.0L240.0,568.8L242.5,571.2L246.2,570.0L250.0,568.8L255.0,567.5L260.0,565.0L261.2,560.0L262.5,555.0L263.8,550.0L266.2,545.0L267.5,542.5L266.2,535.0L267.5,527.5L270.0,525.0L277.5,522.5L277.5,520.0L279.5,507.5L280.0,495.0L275.0,482.5L271.2,475.0L270.8,472.4L270.0,472.5L267.7,469.0L265.0,465.0L260.0,456.2Z" fill="#F4996A"/>
<path d="M335.0,397.5L323.8,397.5L327.5,405.0L330.0,415.0L331.2,425.0L333.8,432.5L335.0,440.0L335.0,450.0L333.8,460.0L332.5,467.5L332.4,468.0L331.4,472.5L329.4,472.3L328.8,477.5L326.2,486.2L330.0,487.5L342.5,483.8L348.0,481.9L350.0,481.2L352.5,480.9L352.3,479.7L357.5,478.8L365.0,476.2L367.3,476.0L371.1,475.5L375.0,475.0L375.0,472.5L375.1,472.5L376.3,467.8L376.4,467.1L375.6,458.9L374.0,450.6L370.7,445.6L372.3,442.3L376.4,432.4L377.3,425.0L374.8,420.0L369.8,417.6L364.9,414.3L359.9,409.3L358.3,402.7L357.4,396.1L353.3,392.0L355.8,386.5L352.2,387.7L352.5,388.8L351.7,390.3L350.0,393.8L345.0,396.2Z" fill="#F4996A"/>
<path d="M359.7,264.9L360.0,265.1L359.7,265.6L355.8,265.6L349.8,265.2L348.8,266.2L353.8,268.4L356.0,270.9L354.3,274.4L350.3,278.3L349.3,281.3L351.8,284.3L356.8,284.5L359.7,286.2L361.5,287.6L361.6,287.5L363.3,288.9L363.7,289.2L363.8,289.3L364.8,290.1L364.9,290.7L365.4,293.4L367.4,296.1L368.7,298.7L368.1,302.7L369.4,305.3L376.4,308.0L380.6,303.3L383.3,299.4L385.2,298.1L387.2,299.4L391.2,300.7L395.1,302.0L398.5,302.0L398.9,302.3L398.9,302.2L400.0,302.8L402.7,303.8L405.5,305.0L411.0,303.9L416.5,301.1L419.8,301.7L422.0,306.1L425.3,311.6L427.5,316.0L430.8,318.2L435.2,319.3L438.5,322.6L440.7,325.9L443.0,328.1L446.3,327.0L449.6,328.1L452.9,329.2L454.4,330.4L454.9,328.3L456.1,328.5L456.2,328.1L456.7,323.7L458.4,319.3L461.7,316.0L465.0,314.9L468.3,313.2L472.7,313.8L477.1,314.9L480.4,316.0L485.9,314.9L490.3,313.8L493.6,313.8L492.5,312.7L489.2,309.4L485.9,308.8L482.6,307.2L480.4,305.0L479.3,301.7L478.7,298.9L477.1,297.8L473.8,296.7L472.1,294.5L472.7,291.8L475.4,289.6L476.0,286.3L474.9,284.1L471.6,283.5L468.3,281.9L466.1,279.1L462.8,277.4L457.3,278.0L451.8,278.5L446.3,278.0L441.9,276.3L439.6,274.1L438.5,271.4L436.3,269.2L433.0,268.6L428.6,266.4L425.3,263.7L422.0,260.9L418.7,259.3L414.3,258.2L413.2,254.3L412.1,251.0L409.9,247.7L407.7,243.3L406.9,242.1L405.3,240.2L403.4,237.7L400.4,237.2L397.4,237.2L395.4,237.7L393.4,239.7L392.5,243.6L392.5,247.6L393.0,253.5L391.5,256.5L386.5,257.0L382.5,256.5L379.6,255.5L376.6,254.0L372.6,255.0L369.7,254.5L366.7,254.0L362.7,255.0L360.2,256.5L359.7,259.5L359.7,264.5Z" fill="#FFFDC0"/>
<path d="M522.2,239.2L522.4,238.3L526.3,236.1L526.2,235.7L523.0,236.1L518.6,238.3L514.1,239.4L509.7,238.3L505.3,237.2L500.9,236.1L497.6,232.8L496.0,227.3L495.4,224.0L491.0,224.0L486.6,224.5L480.7,224.5L480.7,224.6L480.0,224.5L478.9,224.5L478.9,224.4L475.7,224.1L471.8,224.0L467.8,223.8L465.8,228.7L462.8,233.7L457.9,238.2L452.9,240.2L447.0,240.2L443.0,239.2L439.1,236.2L436.1,233.2L433.1,231.7L429.1,230.7L426.2,228.7L424.2,226.8L421.7,223.8L421.2,220.8L420.2,218.8L417.2,219.3L414.3,221.3L411.3,224.3L408.3,226.3L405.3,226.8L403.4,226.0L401.4,225.6L398.4,227.8L396.4,229.2L394.9,230.7L395.4,232.7L398.4,234.2L399.4,235.2L397.4,237.2L400.4,237.2L403.4,237.7L405.3,240.2L406.9,242.1L407.7,243.3L409.9,247.7L412.1,251.0L413.2,254.3L414.3,258.2L418.7,259.3L422.0,260.9L425.3,263.7L428.6,266.4L433.0,268.6L436.3,269.2L438.5,271.4L439.6,274.1L441.9,276.3L446.3,278.0L451.8,278.5L457.3,278.0L462.8,277.4L466.1,279.1L468.3,281.9L471.6,283.5L474.9,284.1L476.0,286.3L475.4,289.6L472.7,291.8L472.1,294.5L473.8,296.7L477.1,297.8L478.7,298.9L481.5,300.0L484.8,300.6L488.1,298.9L492.5,297.8L495.8,298.4L499.1,298.4L501.9,297.3L503.0,294.0L503.5,289.6L503.5,286.3L506.8,285.7L510.1,286.3L513.4,287.4L515.1,286.3L515.6,283.5L512.3,280.7L511.2,276.3L512.3,271.9L514.5,267.5L516.2,263.1L516.7,259.8L518.9,256.5L521.1,252.1L521.7,247.7L521.1,243.3L521.1,242.5L521.4,242.5Z" fill="#FFFDC0"/>
<path d="M545.5,202.5L543.9,197.5L542.8,192.0L541.7,187.6L541.1,184.9L539.5,184.3L537.3,186.0L535.1,188.2L532.9,188.7L530.7,188.2L527.4,187.6L525.2,186.5L523.5,187.6L521.3,188.2L518.6,189.3L516.3,192.0L514.1,193.7L513.6,196.4L515.2,199.7L515.8,203.0L514.1,205.2L510.8,208.0L506.4,209.7L502.0,211.9L498.7,214.6L496.5,218.5L496.0,222.9L495.4,224.0L496.0,227.3L497.6,232.8L500.9,236.1L505.3,237.2L509.7,238.3L514.1,239.4L518.6,238.3L523.0,236.1L526.2,235.7L527.4,235.5L529.0,235.5L527.4,233.9L524.1,231.7L520.8,228.4L519.1,225.1L519.1,221.2L521.9,219.0L526.3,217.4L530.7,215.2L535.1,212.4L538.4,209.1L541.7,205.2Z" fill="#A3B3BF"/>
<path d="M454.9,328.3L454.4,330.4L454.1,331.7L453.9,331.9L450.8,336.6L449.1,339.1L450.8,341.6L448.3,343.2L445.8,346.5L445.0,349.8L446.6,354.0L452.4,358.9L459.0,364.7L465.6,363.4L475.6,364.7L477.5,369.6L482.2,368.8L488.8,367.2L495.4,366.3L502.0,363.9L508.6,361.4L515.2,357.3L520.2,353.1L525.1,348.2L530.1,344.9L531.7,339.9L533.4,337.4L531.7,339.1L526.8,341.6L521.8,343.2L516.9,344.9L513.6,343.2L511.9,339.9L506.9,336.6L502.0,333.3L501.4,332.4L499.7,329.9L499.1,328.2L499.1,328.1L499.1,321.5L496.9,317.1L493.6,313.8L490.3,313.8L485.9,314.9L480.4,316.0L477.1,314.9L472.7,313.8L468.3,313.2L465.0,314.9L461.7,316.0L458.4,319.3L456.7,323.7L456.2,328.1L456.1,328.5Z" fill="#A3B3BF"/>
<path d="M477.5,369.6L475.6,364.7L465.6,363.4L459.0,364.7L452.4,358.9L446.6,354.0L440.9,355.6L434.3,358.1L427.6,362.2L421.0,366.3L416.1,368.8L411.1,370.5L407.8,373.8L402.9,375.4L398.7,373.0L396.3,368.0L394.6,363.0L392.1,361.4L388.8,363.0L385.5,359.7L381.4,361.4L377.3,364.7L375.6,371.3L376.4,377.9L373.1,382.9L368.2,384.5L363.2,387.8L359.9,389.5L355.8,386.5L353.3,392.0L357.4,396.1L358.3,402.7L359.9,409.3L364.9,414.3L369.8,417.6L374.8,420.0L378.1,417.6L383.0,414.3L389.6,411.0L394.6,412.6L399.6,415.9L406.2,414.3L412.8,412.6L416.1,411.0L417.7,406.0L421.0,399.4L426.0,395.3L432.6,392.8L440.9,389.5L449.1,386.2L457.4,382.9L465.6,379.6L468.9,377.1L473.9,373.3Z" fill="#F4996A"/>
<path d="M533.4,337.4L531.7,339.9L530.1,344.9L525.1,348.2L520.2,353.1L515.2,357.3L508.6,361.4L502.0,363.9L495.4,366.3L488.8,367.2L482.2,368.8L477.5,369.6L473.9,373.3L468.9,377.1L465.6,379.6L468.9,381.5L473.9,384.5L477.2,386.2L480.5,392.8L483.8,399.4L485.5,406.0L487.1,411.0L486.3,415.9L482.2,420.9L480.5,425.0L478.9,427.5L485.5,425.8L490.4,427.5L493.7,430.0L497.0,428.3L502.0,425.0L506.9,423.3L511.1,420.0L512.7,414.3L515.2,409.3L520.2,402.7L523.5,396.1L525.1,389.5L526.8,384.5L531.7,379.6L535.0,376.3L538.3,371.3L541.6,368.0L545.8,363.0L546.6,359.7L545.8,356.4L544.9,351.5L543.3,346.5L540.0,344.9L536.7,343.2L535.0,339.9Z" fill="#4573B6"/>
<path d="M468.9,381.5L465.6,379.6L457.4,382.9L449.1,386.2L440.9,389.5L432.6,392.8L426.0,395.3L421.0,399.4L417.7,406.0L416.1,411.0L412.8,412.6L406.2,414.3L399.6,415.9L394.6,412.6L389.6,411.0L383.0,414.3L378.1,417.6L374.8,420.0L377.3,425.0L376.4,432.4L372.3,442.3L370.7,445.6L374.0,450.6L375.6,458.9L376.4,467.1L376.3,467.8L375.1,472.5L375.0,472.5L375.0,475.0L382.5,477.0L392.5,478.8L401.2,480.5L406.8,482.4L407.0,482.0L412.5,478.0L415.5,473.8L415.9,472.6L416.0,472.1L417.7,470.4L418.6,467.9L419.4,465.5L424.3,462.2L429.3,458.9L434.3,453.9L440.9,448.9L447.5,444.0L454.1,439.0L462.3,435.7L468.9,430.8L475.6,428.3L478.9,427.5L480.5,425.0L482.2,420.9L486.3,415.9L487.1,411.0L485.5,406.0L483.8,399.4L480.5,392.8L477.2,386.2L473.9,384.5Z" fill="#FFFDC0"/>
<path d="M488.7,473.7L489.5,474.1L490.1,472.5L488.8,467.1L487.1,457.2L483.8,450.6L482.2,442.3L480.5,432.4L478.9,427.5L475.6,428.3L468.9,430.8L462.3,435.7L454.1,439.0L447.5,444.0L440.9,448.9L434.3,453.9L429.3,458.9L424.3,462.2L419.4,465.5L418.6,467.9L417.7,470.4L416.0,472.1L415.9,472.6L415.5,473.8L412.5,478.0L407.0,482.0L406.8,482.4L407.0,482.5L403.8,490.0L401.2,500.0L403.8,507.5L406.2,513.8L407.5,520.0L415.0,521.2L425.0,522.5L431.2,523.8L435.0,522.5L442.5,520.0L447.5,515.0L453.8,510.0L452.8,504.2L453.1,504.1L458.7,502.8L460.8,500.2L462.5,498.1L464.4,492.5L468.1,488.7L473.7,486.9L474.7,485.0L477.5,481.2L481.2,475.6L483.0,470.9L483.1,470.9Z" fill="#FFFDC0"/>
<path d="M560.1,440.8L559.3,439.3L557.7,440.0L556.2,440.8L555.4,438.5L554.7,436.2L553.1,434.6L550.0,434.6L547.7,433.9L545.4,431.6L542.3,430.8L540.0,429.2L538.5,426.2L536.2,424.6L533.1,424.2L532.4,424.3L531.1,424.5L530.1,424.2L529.5,424.0L525.1,422.5L520.2,421.7L515.2,419.2L511.1,420.0L506.9,423.3L502.0,425.0L497.0,428.3L493.7,430.0L490.4,427.5L485.5,425.8L478.9,427.5L480.5,432.4L482.2,442.3L483.8,450.6L487.1,457.2L488.8,467.1L490.1,472.5L489.5,474.1L496.2,476.6L503.7,480.3L509.3,478.4L514.9,479.4L520.6,480.3L526.2,479.4L529.3,477.5L530.5,476.8L531.5,476.3L533.1,474.7L533.1,474.4L533.1,472.4L533.9,470.1L536.2,467.8L539.2,465.5L542.3,463.9L543.9,461.6L544.6,458.5L544.3,455.5L543.9,452.4L544.6,449.3L546.2,447.7L547.7,448.5L550.0,449.3L552.4,450.1L551.6,448.5L553.1,446.2L555.4,444.7L557.7,443.1L559.3,442.5L560.4,442.0L560.1,441.1Z" fill="#4573B6"/>
<path d="M849.9,224.5L851.5,227.1L853.6,229.2L855.7,231.3L857.3,233.9L858.3,236.0L859.4,238.6L858.8,240.7L857.8,242.8L857.3,244.9L858.8,246.9L860.9,249.0L863.0,251.1L865.1,253.7L867.2,254.8L870.3,254.3L873.5,253.2L876.6,252.7L879.7,253.2L881.8,254.8L885.0,255.3L888.1,255.3L891.3,255.3L894.4,255.8L897.5,257.4L900.7,259.0L903.8,260.5L906.9,262.6L909.0,263.7L911.1,264.2L914.3,264.7L918.5,264.5L919.0,261.6L920.0,258.5L921.1,255.3L922.6,253.2L923.2,251.7L921.1,250.1L918.5,248.0L915.3,245.9L912.2,244.3L909.0,242.8L906.9,240.7L903.8,239.1L902.8,237.0L900.7,238.1L898.6,239.1L895.4,238.1L894.4,235.4L892.3,234.4L890.2,233.9L888.1,232.8L885.0,231.3L882.9,229.7L881.3,228.1L879.2,226.5L876.6,227.1L873.5,227.6L870.3,228.6L867.2,229.2L864.1,228.6L862.0,227.6L859.4,228.1L857.3,226.0L855.7,223.4L853.6,221.8L851.5,222.4Z" fill="#FFFDC0"/>
<path d="M594.6,258.1L599.0,259.8L603.4,261.4L606.7,262.5L610.0,263.6L613.3,262.5L615.5,258.1L616.6,253.7L616.0,249.3L613.3,247.1L608.9,248.2L606.7,249.3L605.6,246.0L601.2,244.9L596.8,248.2L595.7,252.6Z" fill="#A3B3BF"/>
<path d="M270.0,568.8L278.8,573.8L285.0,570.0L290.0,565.0L295.0,567.5L302.5,570.0L305.0,575.0L308.8,578.8L313.8,576.2L316.2,571.2L322.5,568.8L330.0,566.2L336.2,561.2L342.5,565.0L347.5,568.8L347.8,568.8L352.0,569.8L352.5,567.5L350.0,565.0L348.8,560.0L350.5,556.5L352.5,552.5L349.9,551.0L355.0,542.5L362.5,530.0L372.5,521.2L382.5,515.5L391.2,513.8L398.8,516.2L407.5,520.0L406.2,513.8L403.8,507.5L401.2,500.0L403.8,490.0L407.0,482.5L406.8,482.4L401.2,480.5L392.5,478.8L382.5,477.0L375.0,475.0L371.1,475.5L367.3,476.0L365.0,476.2L357.5,478.8L352.3,479.7L352.5,480.9L350.0,481.2L348.0,481.9L342.5,483.8L330.0,487.5L326.2,486.2L320.0,490.0L312.5,495.0L305.0,501.2L302.5,507.5L300.0,513.8L295.0,517.5L290.0,520.0L285.0,521.2L277.5,522.5L270.0,525.0L267.5,527.5L266.2,535.0L267.5,542.5L266.2,545.0L263.8,550.0L262.5,555.0L261.2,560.0L260.0,565.0Z" fill="#D63027"/>
<path d="M347.8,568.8L347.5,568.8L342.5,565.0L336.2,561.2L330.0,566.2L322.5,568.8L316.2,571.2L313.8,576.2L308.8,578.8L305.0,575.0L302.5,570.0L295.0,567.5L290.0,565.0L285.0,570.0L278.8,573.8L280.0,577.5L277.5,582.5L273.8,587.5L277.5,590.0L278.8,595.0L272.5,600.0L266.2,606.2L263.8,608.8L266.2,615.0L266.2,622.5L268.8,627.5L273.8,631.2L280.0,635.0L285.0,642.5L285.7,645.1L286.2,645.0L292.5,643.8L300.0,647.5L305.0,650.0L312.5,655.0L320.0,662.5L327.5,665.0L337.5,665.0L345.0,663.8L347.5,660.0L343.8,655.0L342.5,648.8L347.5,647.5L349.3,648.4L352.5,650.0L351.8,653.0L355.0,653.8L360.0,656.2L358.8,650.0L360.0,643.0L367.5,638.0L377.5,636.2L388.8,635.0L387.5,631.2L386.2,625.0L382.5,620.0L387.5,615.0L390.0,607.5L387.5,600.0L386.2,592.5L387.5,582.5L388.8,575.5L382.5,575.0L375.0,573.8L365.0,572.5L357.5,571.2L352.4,570.6L352.5,569.9L352.0,569.8Z" fill="#F4996A"/>
<path d="M349.3,648.4L347.5,647.5L342.5,648.8L343.8,655.0L347.5,660.0L345.0,663.8L337.5,665.0L327.5,665.0L320.0,662.5L312.5,655.0L305.0,650.0L300.0,647.5L292.5,643.8L286.2,645.0L285.7,645.1L286.2,647.5L290.0,655.0L292.5,662.5L295.0,670.0L293.8,677.5L296.2,685.0L296.7,687.6L297.5,692.5L296.2,700.0L292.5,705.0L291.2,707.5L295.0,710.5L298.8,715.0L302.5,716.2L307.5,715.0L313.8,712.5L320.0,711.5L326.2,713.0L333.8,714.0L337.5,717.0L340.0,720.5L346.2,722.5L353.8,723.8L361.2,722.0L367.0,718.8L372.5,715.0L376.2,712.0L380.0,706.8L386.2,703.2L391.2,703.8L395.0,706.8L398.8,705.5L401.2,700.0L403.0,693.8L403.2,692.6L404.2,687.5L403.3,687.4L403.8,683.8L403.0,679.5L390.0,676.2L380.0,671.2L372.5,667.5L365.0,661.2L360.0,656.2L355.0,653.8L351.8,653.0L352.5,650.0Z" fill="#F4996A"/>
<path d="M352.5,552.5L350.5,556.5L348.8,560.0L350.0,565.0L352.5,567.5L352.0,569.8L352.5,569.9L352.4,570.6L357.5,571.2L365.0,572.5L375.0,573.8L382.5,575.0L388.8,575.5L392.5,573.8L400.0,571.2L410.0,568.0L417.5,565.5L425.0,564.5L435.0,565.0L445.0,566.2L450.0,563.8L447.5,557.5L442.5,550.0L438.8,542.5L436.2,536.2L432.5,530.0L431.2,523.8L425.0,522.5L415.0,521.2L407.5,520.0L398.8,516.2L391.2,513.8L382.5,515.5L372.5,521.2L362.5,530.0L355.0,542.5L349.9,551.0Z" fill="#D63027"/>
<path d="M452.8,504.2L453.8,510.0L447.5,515.0L442.5,520.0L435.0,522.5L431.2,523.8L432.5,530.0L436.2,536.2L438.8,542.5L442.5,550.0L447.5,557.5L450.0,563.8L445.0,566.2L435.0,565.0L425.0,564.5L417.5,565.5L422.5,568.8L430.0,571.2L437.5,572.5L445.0,575.0L448.8,577.5L442.5,581.2L436.2,585.5L440.0,590.5L446.2,595.0L453.1,595.0L455.0,595.0L457.5,594.4L458.1,595.3L460.6,593.6L466.2,590.8L471.9,589.9L471.9,586.1L470.0,582.4L466.2,580.5L463.4,576.8L462.5,572.1L465.3,567.4L470.0,563.7L475.6,559.9L481.2,556.2L486.8,552.4L492.5,548.7L496.2,544.9L500.0,541.2L505.6,537.4L511.2,534.6L516.8,533.7L515.9,526.2L514.9,518.7L513.1,515.0L509.3,516.8L505.6,520.6L501.8,518.7L496.2,515.0L492.5,507.5L488.7,503.7L485.0,500.0L481.2,494.4L479.4,488.7L473.7,486.9L468.1,488.7L464.4,492.5L462.5,498.1L460.8,500.2L458.7,502.8L453.1,504.1Z" fill="#FFFDC0"/>
<path d="M417.5,565.5L410.0,568.0L400.0,571.2L392.5,573.8L388.8,575.5L387.5,582.5L386.2,592.5L387.5,600.0L390.0,607.5L387.5,615.0L382.5,620.0L386.2,625.0L387.5,631.2L388.8,635.0L400.0,624.5L410.0,621.2L420.0,618.0L432.5,611.2L442.5,602.5L446.2,595.0L440.0,590.5L436.2,585.5L442.5,581.2L448.8,577.5L445.0,575.0L437.5,572.5L430.0,571.2L422.5,568.8Z" fill="#F4996A"/>
<path d="M455.0,595.0L453.1,595.0L446.2,595.0L442.5,602.5L432.5,611.2L420.0,618.0L410.0,621.2L400.0,624.5L388.8,635.0L377.5,636.2L367.5,638.0L360.0,643.0L358.8,650.0L360.0,656.2L365.0,661.2L372.5,667.5L380.0,671.2L390.0,676.2L403.0,679.5L410.0,682.0L417.5,680.8L425.0,680.5L431.2,682.0L431.7,685.0L432.0,685.0L432.5,681.2L433.0,673.8L436.2,667.5L438.8,666.0L442.5,663.8L442.2,662.6L442.5,662.5L447.5,660.0L452.5,656.2L458.8,652.5L460.0,646.2L461.2,641.2L460.5,637.5L458.7,633.0L466.2,628.3L473.7,625.5L477.5,622.1L481.2,618.9L486.8,616.1L491.5,612.4L492.5,606.8L488.7,601.1L483.1,595.5L477.5,591.8L471.9,589.9L466.2,590.8L460.6,593.6L458.1,595.3L457.5,594.4Z" fill="#D63027"/>
<path d="M430.0,687.5L431.4,691.9L431.3,692.5L431.6,692.4L432.0,693.8L435.5,701.2L438.8,708.0L442.0,714.5L441.3,720.8L437.5,720.4L440.0,721.2L441.7,723.8L442.5,725.0L443.8,731.2L446.2,736.2L450.0,738.8L453.8,742.5L457.5,745.0L462.5,743.8L470.0,743.8L477.5,742.5L482.5,741.2L487.5,738.8L492.5,736.2L497.5,737.5L502.5,736.2L507.5,732.5L512.5,730.0L520.0,727.5L526.2,726.2L532.5,725.0L537.5,722.5L543.0,723.0L540.0,720.0L532.5,715.0L525.0,707.5L517.7,702.6L517.5,702.5L510.8,699.2L507.5,696.2L503.8,692.5L498.8,687.5L495.0,680.0L492.5,675.0L487.5,673.8L482.5,675.0L477.5,672.5L472.5,667.5L467.5,662.5L462.5,657.5L458.8,652.5L452.5,656.2L447.5,660.0L442.5,662.5L442.2,662.6L442.5,663.8L438.8,666.0L436.2,667.5L433.0,673.8L432.5,681.2L432.0,685.0L431.7,685.0L432.0,687.2Z" fill="#D63027"/>
<path d="M652.5,501.2L645.0,507.5L643.8,510.5L647.5,516.2L652.5,521.2L660.0,527.5L667.5,528.8L672.5,530.0L675.0,532.5L682.5,531.2L690.0,530.0L695.0,525.0L700.0,523.0L706.2,524.5L711.2,527.5L720.0,526.2L730.0,523.8L737.7,522.8L737.8,524.0L740.0,524.2L742.2,524.5L746.6,525.3L753.2,527.5L759.8,529.7L766.4,531.9L773.0,529.7L779.6,528.6L785.1,529.7L786.2,530.8L784.0,527.5L781.8,523.1L778.5,517.6L775.2,512.1L773.0,505.5L771.9,498.9L773.0,492.3L768.6,490.1L764.2,486.8L759.8,484.6L755.4,482.4L751.0,480.2L748.8,481.3L744.8,488.2L744.4,489.0L740.0,491.2L737.8,491.6L737.6,490.6L730.0,492.5L720.0,493.8L710.0,493.8L701.2,494.9L700.0,495.0L697.5,495.5L697.2,494.5L695.5,494.9L691.1,496.9L686.7,499.1L681.2,496.9L675.7,493.6L670.1,490.3L664.6,487.0L663.5,491.4L662.4,495.8L661.8,498.6L657.0,497.5Z" fill="#A3B3BF"/>
<path d="M652.5,501.2L657.0,497.5L661.8,498.6L662.4,495.8L663.5,491.4L664.6,487.0L665.7,482.6L665.2,477.1L663.5,469.4L661.3,463.9L656.9,457.3L652.5,451.8L647.0,446.0L641.5,441.9L638.2,439.1L634.9,439.1L629.9,440.8L626.1,441.3L620.6,441.9L618.4,444.1L617.8,448.5L617.3,452.9L615.1,455.1L610.7,457.3L606.3,458.4L601.9,460.6L598.6,462.2L595.2,462.8L591.9,463.9L588.6,465.0L584.2,466.1L578.7,466.6L575.4,467.2L573.8,467.4L572.1,471.0L568.8,476.0L565.5,479.3L563.3,483.7L562.2,486.7L561.7,488.1L561.4,488.4L560.2,490.1L558.9,492.0L557.7,491.6L556.2,496.2L558.0,503.7L557.1,512.2L550.5,515.9L548.7,520.6L550.5,526.2L556.2,530.9L563.7,533.7L568.3,534.6L571.1,529.9L574.9,524.3L576.8,518.7L578.6,515.0L586.1,514.0L593.6,516.8L598.0,518.0L602.1,519.1L602.4,520.9L607.5,520.0L615.0,516.2L622.5,513.8L630.0,510.0L637.5,511.2L643.8,510.5L645.0,507.5Z" fill="#F4996A"/>
<path d="M602.1,519.1L598.0,518.0L593.6,516.8L586.1,514.0L578.6,515.0L576.8,518.7L574.9,524.3L571.1,529.9L568.3,534.6L565.5,538.4L561.8,542.1L558.0,543.6L559.9,548.7L561.8,554.3L563.7,558.0L567.4,561.8L571.1,565.5L572.6,569.8L573.0,571.2L573.5,572.5L574.9,572.7L574.9,573.3L575.4,576.6L574.3,581.0L573.8,586.5L573.2,589.8L572.1,591.5L576.5,592.0L579.8,593.1L584.2,593.1L588.6,593.7L593.0,593.7L597.4,594.2L599.6,597.5L601.8,599.7L605.1,600.8L606.2,604.1L606.2,607.4L607.3,610.7L610.6,612.9L617.2,612.4L622.8,612.4L627.2,614.0L630.5,616.2L633.8,619.5L637.1,622.3L641.5,623.4L645.3,622.8L643.7,620.6L642.6,617.3L643.7,612.9L644.8,608.5L645.3,604.1L644.8,599.7L645.9,596.4L648.1,593.1L651.4,589.8L654.7,585.4L658.0,581.0L659.6,576.6L660.1,572.9L656.9,572.5L657.4,568.4L657.5,567.5L660.0,557.5L670.0,555.0L675.0,548.8L671.2,540.0L675.0,532.5L672.5,530.0L667.5,528.8L660.0,527.5L652.5,521.2L647.5,516.2L643.8,510.5L637.5,511.2L630.0,510.0L622.5,513.8L615.0,516.2L607.5,520.0L602.4,520.9Z" fill="#A3B3BF"/>
<path d="M656.9,572.5L660.1,572.9L659.6,576.6L658.0,581.0L654.7,585.4L651.4,589.8L648.1,593.1L645.9,596.4L644.8,599.7L645.3,604.1L644.8,608.5L643.7,612.9L642.6,617.3L643.7,620.6L645.3,622.8L648.1,621.7L651.4,621.2L656.9,620.6L661.3,620.6L665.7,621.2L667.9,622.3L670.1,622.8L672.3,622.3L674.5,620.6L675.6,617.3L676.7,614.0L677.8,610.7L678.0,610.2L678.9,607.4L681.1,603.0L680.0,602.6L680.0,602.5L682.5,597.5L687.5,595.0L692.5,590.0L697.5,585.0L701.2,580.0L702.5,572.5L700.0,569.5L692.5,568.8L687.5,566.2L690.0,565.0L695.0,566.2L700.0,566.2L702.5,563.8L706.2,558.8L710.0,555.0L713.8,551.2L717.5,550.0L720.0,548.8L725.0,546.2L722.5,542.5L718.8,537.5L715.0,532.5L711.2,527.5L706.2,524.5L700.0,523.0L695.0,525.0L690.0,530.0L682.5,531.2L675.0,532.5L671.2,540.0L675.0,548.8L670.0,555.0L660.0,557.5L657.5,567.5L657.4,568.4Z" fill="#4573B6"/>
<path d="M720.0,526.2L711.2,527.5L715.0,532.5L718.8,537.5L722.5,542.5L725.0,546.2L722.5,552.5L721.2,556.2L723.8,557.5L726.2,561.2L728.0,568.8L732.5,566.2L737.5,563.8L737.5,563.8L737.6,563.8L740.3,564.2L742.5,564.5L749.9,569.3L756.9,571.1L758.7,564.5L763.1,562.3L769.7,564.9L776.3,569.7L782.9,573.7L787.3,571.9L792.8,566.7L797.7,561.6L799.9,555.7L795.0,552.8L790.2,548.4L785.8,542.9L784.0,535.2L786.2,530.8L785.1,529.7L779.6,528.6L773.0,529.7L766.4,531.9L759.8,529.7L753.2,527.5L746.6,525.3L742.2,524.5L740.0,524.2L737.8,524.0L737.7,522.8L730.0,523.8Z" fill="#A3B3BF"/>
<path d="M732.5,566.2L728.0,568.8L728.0,572.5L730.0,577.5L733.8,582.5L737.5,587.5L740.0,592.5L742.5,595.0L745.0,592.5L748.8,587.5L750.0,582.5L751.1,580.3L753.2,581.4L754.5,578.3L755.4,575.9L756.9,571.1L749.9,569.3L742.5,564.5L740.3,564.2L737.6,563.8L737.5,563.8L737.5,563.8Z" fill="#4573B6"/>
<path d="M705.0,595.0L705.0,600.0L706.2,605.0L708.8,610.0L712.5,611.2L717.5,610.0L722.5,607.5L727.5,605.0L732.5,602.5L731.2,598.8L727.5,595.0L726.2,590.0L727.5,585.0L725.0,582.5L720.0,582.5L717.5,585.0L713.8,590.0L710.0,592.5Z" fill="#4573B6"/>
<path d="M558.9,492.0L560.2,490.1L561.4,488.4L561.7,488.1L562.2,486.7L563.3,483.7L565.5,479.3L568.8,476.0L572.1,471.0L573.8,467.4L571.6,466.1L568.8,465.5L565.5,465.8L562.7,465.1L562.2,465.0L560.4,464.4L559.2,463.5L557.7,462.4L555.4,459.3L553.9,455.5L553.1,452.4L552.4,450.1L550.0,449.3L547.7,448.5L546.2,447.7L544.6,449.3L543.9,452.4L544.3,455.5L544.6,458.5L543.9,461.6L542.3,463.9L539.2,465.5L536.2,467.8L533.9,470.1L533.1,472.4L533.1,474.4L533.1,474.7L531.5,476.3L530.5,476.8L529.3,477.5L526.2,479.4L520.6,480.3L514.9,479.4L509.3,478.4L503.7,480.3L496.2,476.6L489.5,474.1L488.7,473.7L483.1,470.9L483.0,470.9L481.2,475.6L477.5,481.2L474.7,485.0L473.7,486.9L479.4,488.7L481.2,494.4L485.0,500.0L488.7,503.7L492.5,507.5L496.2,515.0L501.8,518.7L505.6,520.6L509.3,516.8L513.1,515.0L514.9,518.7L515.9,526.2L516.8,533.7L522.4,537.1L528.1,535.2L533.7,534.6L537.4,537.4L544.9,541.2L552.4,544.0L558.0,543.6L561.8,542.1L565.5,538.4L568.3,534.6L563.7,533.7L556.2,530.9L550.5,526.2L548.7,520.6L550.5,515.9L557.1,512.2L558.0,503.7L556.2,496.2L557.7,491.6Z" fill="#FFFDC0"/>
<path d="M544.9,541.2L537.4,537.4L533.7,534.6L528.1,535.2L522.4,537.1L516.8,533.7L511.2,534.6L505.6,537.4L500.0,541.2L496.2,544.9L492.5,548.7L486.8,552.4L481.2,556.2L475.6,559.9L470.0,563.7L465.3,567.4L462.5,572.1L463.4,576.8L466.2,580.5L470.0,582.4L471.9,586.1L471.9,589.9L477.5,591.8L483.1,595.5L488.7,601.1L492.5,606.8L491.5,612.4L486.8,616.1L481.2,618.9L477.5,622.1L479.4,624.6L486.8,625.5L494.3,626.4L503.7,624.6L513.1,623.2L522.4,623.6L531.8,625.1L538.4,628.3L540.2,630.2L543.0,627.4L548.7,625.5L554.3,623.6L559.0,619.9L559.9,614.2L560.6,610.1L560.8,608.7L561.1,608.5L563.3,606.3L563.5,606.0L565.5,603.0L567.7,599.7L569.4,596.4L569.9,593.7L572.1,591.5L573.2,589.8L573.8,586.5L574.3,581.0L575.4,576.6L574.9,573.3L574.9,572.7L573.5,572.5L573.0,571.2L572.6,569.8L571.1,565.5L567.4,561.8L563.7,558.0L561.8,554.3L559.9,548.7L558.0,543.6L552.4,544.0Z" fill="#F4996A"/>
<path d="M560.8,608.7L560.6,610.1L559.9,614.2L559.0,619.9L559.7,620.9L560.5,621.9L562.9,622.5L564.4,622.8L568.8,624.5L573.2,625.0L579.8,625.0L585.3,626.1L587.5,628.4L587.5,631.1L589.7,632.8L593.0,635.0L596.3,637.2L600.7,637.2L605.1,636.1L608.4,633.9L612.8,632.8L617.2,632.8L620.0,633.9L621.7,636.1L623.9,638.3L628.3,639.4L631.6,641.6L634.9,643.8L638.2,646.0L641.5,648.2L642.6,649.3L644.8,648.2L648.1,646.0L652.5,643.8L654.7,641.6L654.7,638.3L655.8,635.0L655.2,631.7L653.6,629.5L651.4,627.2L649.2,626.1L647.0,624.5L645.3,622.8L641.5,623.4L637.1,622.3L633.8,619.5L630.5,616.2L627.2,614.0L622.8,612.4L617.2,612.4L610.6,612.9L607.3,610.7L606.2,607.4L606.2,604.1L605.1,600.8L601.8,599.7L599.6,597.5L597.4,594.2L593.0,593.7L588.6,593.7L584.2,593.1L579.8,593.1L576.5,592.0L572.1,591.5L569.9,593.7L569.4,596.4L567.7,599.7L565.5,603.0L563.5,606.0L563.3,606.3L561.1,608.5Z" fill="#4573B6"/>
<path d="M536.2,638.8L535.2,640.8L532.5,646.2L531.2,653.8L535.0,658.8L541.2,663.8L543.8,666.2L552.5,666.2L557.5,666.2L565.0,671.2L572.5,676.2L582.5,673.8L588.2,668.1L588.8,667.5L591.7,669.2L593.0,666.9L595.2,664.7L597.4,663.0L599.6,662.5L601.8,663.6L604.0,664.7L606.2,665.8L607.8,667.9L608.3,667.5L609.8,668.4L612.5,670.0L620.0,673.8L623.8,671.2L628.6,667.6L631.0,670.7L631.8,668.5L632.7,665.8L634.3,662.5L636.0,659.2L638.2,655.9L640.4,652.6L642.6,649.3L641.5,648.2L638.2,646.0L634.9,643.8L631.6,641.6L628.3,639.4L623.9,638.3L621.7,636.1L620.0,633.9L617.2,632.8L612.8,632.8L608.4,633.9L605.1,636.1L600.7,637.2L596.3,637.2L593.0,635.0L589.7,632.8L587.5,631.1L587.5,628.4L585.3,626.1L579.8,625.0L573.2,625.0L568.8,624.5L564.4,622.8L562.9,622.5L560.5,621.9L559.7,620.9L559.0,619.9L554.3,623.6L548.7,625.5L543.0,627.4L540.2,630.2L538.4,634.9L537.6,637.7L536.9,637.5Z" fill="#A3B3BF"/>
<path d="M540.2,630.2L538.4,628.3L531.8,625.1L522.4,623.6L513.1,623.2L503.7,624.6L494.3,626.4L486.8,625.5L479.4,624.6L477.5,622.1L473.7,625.5L466.2,628.3L458.7,633.0L460.5,637.5L461.2,641.2L460.0,646.2L458.8,652.5L462.5,657.5L467.5,662.5L472.5,667.5L477.5,672.5L482.5,675.0L487.5,673.8L492.5,675.0L495.0,680.0L498.8,687.5L503.8,692.5L507.5,696.2L510.8,699.2L513.8,697.0L517.5,692.5L518.8,685.0L521.2,677.5L527.5,673.8L537.5,668.8L543.8,666.2L541.2,663.8L535.0,658.8L531.2,653.8L532.5,646.2L535.2,640.8L536.2,638.8L536.9,637.5L537.6,637.7L538.4,634.9Z" fill="#D63027"/>
<path d="M687.0,624.0L689.0,627.0L693.0,628.5L697.0,629.8L700.0,628.0L704.0,627.0L707.5,626.0L704.0,622.5L700.0,621.5L695.0,621.2L690.0,622.0Z" fill="#F4996A"/>
<path d="M588.2,668.1L582.5,673.8L572.5,676.2L565.0,671.2L557.5,666.2L552.5,666.2L543.8,666.2L537.5,668.8L527.5,673.8L521.2,677.5L518.8,685.0L517.5,692.5L513.8,697.0L510.8,699.2L517.5,702.5L517.7,702.6L520.0,703.8L530.0,704.5L540.0,703.8L550.0,702.5L560.0,700.5L570.0,698.8L580.0,697.5L590.0,696.2L600.0,694.5L606.2,695.0L608.8,690.0L615.0,687.0L620.0,683.8L619.5,678.8L620.0,673.8L612.5,670.0L609.8,668.4L608.3,667.5L607.8,667.9L606.2,665.8L604.0,664.7L601.8,663.6L599.6,662.5L597.4,663.0L595.2,664.7L593.0,666.9L591.7,669.2L588.8,667.5Z" fill="#FFFDC0"/>
<path d="M517.7,702.6L525.0,707.5L532.5,715.0L540.0,720.0L543.0,723.0L550.0,728.8L556.2,727.5L560.0,731.2L562.5,736.2L566.2,742.5L570.0,750.0L571.2,757.5L573.8,763.8L576.2,768.0L580.0,770.0L583.8,767.0L587.5,765.0L591.2,761.2L591.2,755.0L595.0,750.0L598.0,745.0L595.5,740.0L594.5,736.2L597.5,731.2L602.5,730.0L607.5,732.5L612.5,734.5L616.2,733.8L618.0,728.0L617.0,722.5L620.0,717.5L622.5,714.5L619.5,712.0L615.0,710.5L611.2,707.5L608.8,702.5L607.0,697.5L606.2,695.0L600.0,694.5L590.0,696.2L580.0,697.5L570.0,698.8L560.0,700.5L550.0,702.5L540.0,703.8L530.0,704.5L520.0,703.8Z" fill="#FFFDC0"/>
<path d="M282.0,430.7L277.9,434.2L276.9,441.8L279.4,449.4L284.5,454.5L289.6,459.5L294.6,467.0L298.0,471.0L302.2,474.7L304.7,469.7L306.0,466.0L307.3,462.0L308.0,457.0L308.3,452.0L306.0,447.0L302.2,441.8L299.0,438.0L294.6,434.2L288.0,431.5Z" fill="#F4996A"/>
<path d="M815.4,336.8L812.1,339.0L808.7,340.3L804.8,342.3L800.8,344.9L796.8,346.5L792.9,348.4L788.9,350.2L784.9,352.2L790.2,354.2L795.5,356.8L800.8,360.2L806.1,362.1L810.1,363.5L812.1,367.4L813.4,372.7L814.7,378.0L816.0,383.3L818.0,385.9L820.6,386.6L824.6,384.6L827.3,382.0L828.6,379.3L825.9,376.7L824.6,373.4L825.9,371.4L828.6,374.0L831.2,376.7L831.2,380.6L829.9,384.6L828.6,388.6L827.3,392.5L826.6,396.5L828.6,400.5L832.5,404.4L836.5,406.4L840.5,406.8L844.4,405.1L848.4,401.8L852.4,398.5L855.0,394.5L857.0,391.2L859.6,388.6L860.3,386.6L857.7,385.3L853.7,384.0L851.1,382.0L849.1,379.3L849.7,376.7L848.4,374.0L847.1,371.4L845.8,368.7L845.1,366.1L847.1,364.1L851.1,362.1L853.7,360.2L856.3,356.8L857.0,353.5L855.0,351.6L853.7,348.9L852.4,345.6L849.7,343.6L847.7,342.3L848.4,340.3L851.1,339.7L853.0,337.0L854.4,333.7L857.0,332.4L859.6,330.4L860.3,328.4L858.3,326.4L855.7,324.5L853.0,323.1L849.7,321.2L846.4,320.5L843.1,322.5L839.2,324.5L835.2,325.8L831.2,326.4L827.3,327.8L823.3,331.1L819.3,333.7ZM816.0,337.7L820.6,338.6L825.9,339.4L832.5,339.4L835.8,339.7L832.5,341.0L827.9,342.0L825.3,344.3L824.3,347.6L822.6,350.9L820.0,351.3L819.1,347.6L818.3,343.0L817.3,339.7Z" fill="#FFFDC0"/>
<path d="M816.0,337.7L817.3,339.7L818.3,343.0L819.1,347.6L820.0,351.3L822.6,350.9L824.3,347.6L825.3,344.3L827.9,342.0L832.5,341.0L835.8,339.7L832.5,339.4L825.9,339.4L820.6,338.6Z" fill="#ffffff"/>
<path d="M876.6,203.0L878.7,203.8L881.8,205.1L885.0,206.7L888.1,208.2L891.3,209.3L894.4,209.8L897.5,209.8L899.1,211.4L900.7,212.4L901.7,210.3L900.7,208.2L901.7,206.2L902.8,204.6L902.2,202.5L903.8,200.9L904.9,199.4L902.8,198.3L901.7,196.7L900.7,194.6L898.6,195.2L897.0,194.6L895.4,193.6L893.9,194.1L891.3,195.7L888.1,196.2L885.0,196.7L881.8,197.3L878.7,199.9Z" fill="#F4996A"/>
</g>
<g transform="translate(1032,0)" stroke="#646464" stroke-width="1.3" stroke-linejoin="round">
<path d="M347.7,200.0L347.5,200.0L340.0,198.0L332.5,195.0L328.8,196.2L325.0,198.0L320.0,195.0L315.0,191.2L308.8,188.8L305.0,190.0L300.0,192.5L295.0,195.0L293.8,202.5L295.0,210.0L297.5,216.2L292.5,222.5L288.8,224.5L291.2,227.5L295.0,227.5L293.8,232.5L295.0,240.0L296.2,247.5L297.2,252.5L297.5,253.5L297.5,253.5L300.0,253.1L305.3,251.8L309.3,250.5L313.2,249.8L318.5,249.6L321.1,251.8L326.4,253.1L329.0,253.1L331.7,253.1L332.5,253.4L332.6,253.2L334.0,253.5L335.0,256.5L337.9,258.5L342.9,259.5L347.8,260.5L351.8,262.0L356.8,263.4L359.7,264.5L359.7,259.5L360.2,256.5L362.7,255.0L366.7,254.0L369.7,254.5L372.6,255.0L376.6,254.0L379.6,255.5L382.5,256.5L386.5,257.0L391.5,256.5L393.0,253.5L392.5,247.6L392.5,243.6L393.4,239.7L395.4,237.7L397.4,237.2L399.4,235.2L398.4,234.2L395.4,232.7L394.9,230.7L396.4,229.2L398.4,227.8L401.4,225.6L403.4,226.0L405.3,226.8L408.3,226.3L411.3,224.3L414.3,221.3L417.2,219.3L420.2,218.8L421.2,220.8L421.7,223.8L424.2,226.8L426.2,228.7L429.1,230.7L433.1,231.7L436.1,233.2L439.1,236.2L443.0,239.2L447.0,240.2L452.9,240.2L457.9,238.2L462.8,233.7L465.8,228.7L467.8,223.8L468.8,219.8L468.8,214.9L469.8,210.9L469.3,207.9L466.8,205.9L464.8,203.0L465.0,202.1L465.8,199.0L465.9,199.0L463.8,192.5L457.5,186.2L450.0,183.0L442.0,179.5L439.5,181.2L435.0,181.5L432.5,178.8L433.8,175.0L432.0,173.8L429.5,175.5L424.5,177.0L417.5,178.0L411.2,179.5L403.8,181.2L396.2,183.0L390.5,185.5L385.0,186.2L380.0,187.5L375.0,187.0L371.2,188.8L367.5,192.5L363.8,195.0L360.0,196.2L357.5,200.0L352.6,201.2L352.5,200.7Z" fill="#FFFDC0"/>
<path d="M516.5,81.2L512.5,77.5L507.5,74.5L501.2,70.8L495.0,67.5L492.0,62.5L489.5,57.5L486.2,50.5L483.8,45.0L481.2,41.2L475.0,41.0L470.0,42.0L465.0,41.2L460.0,40.5L456.2,41.2L450.0,42.5L443.8,44.5L437.5,45.0L433.0,47.0L432.0,50.0L430.0,57.5L429.5,65.0L428.0,73.0L425.0,78.8L420.5,85.5L417.0,92.0L418.0,98.0L425.0,98.2L432.5,98.8L440.0,99.5L448.0,100.0L454.5,101.2L460.0,102.5L463.0,105.0L464.5,110.0L469.5,115.0L474.5,119.5L477.5,123.0L482.5,120.5L486.2,116.2L488.8,110.0L489.5,102.5L488.8,95.0L490.5,89.5L496.2,87.0L502.5,85.0L510.0,83.0Z" fill="#FFFDC0"/>
<path d="M570.0,89.5L567.5,90.0L568.3,93.1L565.5,93.8L563.0,91.2L565.0,83.8L563.8,82.0L557.5,84.5L550.0,85.0L540.0,85.5L530.0,85.0L522.5,83.8L516.5,81.2L510.0,83.0L502.5,85.0L496.2,87.0L490.5,89.5L488.8,95.0L489.5,102.5L488.8,110.0L486.2,116.2L482.5,120.5L477.5,123.0L475.0,126.2L472.5,130.0L476.2,132.5L480.0,137.0L485.0,140.0L490.0,141.2L495.0,140.5L502.5,140.0L510.0,139.0L520.0,137.5L527.5,136.2L532.0,132.5L535.5,133.0L537.0,137.5L541.2,138.8L547.5,136.2L550.0,132.5L552.5,134.5L553.8,139.5L557.5,141.2L561.2,137.5L567.5,134.5L568.2,134.3L572.5,132.8L572.3,131.3L572.5,131.2L578.8,130.0L583.8,127.5L586.2,123.8L584.5,116.2L583.8,112.5L582.0,107.5L579.5,102.5L577.0,96.2L575.5,91.2L573.8,86.2L573.0,87.5L571.4,88.6Z" fill="#F4996A"/>
<path d="M418.0,98.0L412.5,103.0L408.8,109.5L404.5,112.5L403.8,118.0L403.8,123.8L399.5,127.5L396.2,133.0L395.0,136.2L390.0,132.5L385.0,130.5L380.5,133.0L375.0,137.5L370.0,141.2L363.8,142.5L360.0,144.5L359.5,148.0L361.2,152.5L364.5,155.5L368.0,158.0L373.0,160.0L375.0,163.8L375.0,168.8L377.5,174.5L380.5,179.0L384.5,181.8L388.8,183.8L390.5,185.5L396.2,183.0L403.8,181.2L411.2,179.5L417.5,178.0L424.5,177.0L429.5,175.5L432.0,173.8L433.8,175.0L432.5,178.8L435.0,181.5L439.5,181.2L442.0,179.5L443.0,175.0L444.5,167.5L445.0,160.0L446.2,155.0L450.0,154.5L455.0,156.2L460.0,156.2L460.5,150.0L461.2,145.0L463.0,140.0L466.2,136.2L470.0,132.5L472.5,130.0L475.0,126.2L477.5,123.0L474.5,119.5L469.5,115.0L464.5,110.0L463.0,105.0L460.0,102.5L454.5,101.2L448.0,100.0L440.0,99.5L432.5,98.8L425.0,98.2Z" fill="#FFFDC0"/>
<path d="M470.0,132.5L466.2,136.2L463.0,140.0L461.2,145.0L460.5,150.0L460.0,156.2L463.8,161.2L467.5,165.0L472.0,168.2L476.2,171.2L479.8,172.3L480.0,171.7L482.6,172.0L484.4,172.2L487.7,174.4L491.0,175.5L495.4,174.6L499.8,175.0L506.4,175.5L509.7,175.3L509.2,173.3L509.0,172.5L509.2,172.5L509.0,171.2L510.3,169.9L512.5,167.5L517.5,166.2L525.0,165.5L532.0,165.0L533.8,160.5L540.0,162.0L547.5,162.0L553.8,163.8L555.0,166.2L554.0,160.0L555.0,152.5L557.0,146.2L557.5,141.2L553.8,139.5L552.5,134.5L550.0,132.5L547.5,136.2L541.2,138.8L537.0,137.5L535.5,133.0L532.0,132.5L527.5,136.2L520.0,137.5L510.0,139.0L502.5,140.0L495.0,140.5L490.0,141.2L485.0,140.0L480.0,137.0L476.2,132.5L472.5,130.0Z" fill="#A3B3BF"/>
<path d="M567.5,134.5L561.2,137.5L557.5,141.2L557.0,146.2L555.0,152.5L554.0,160.0L555.0,166.2L562.5,165.0L567.2,164.2L567.5,166.2L572.4,166.5L580.0,167.0L590.0,166.2L597.5,165.0L607.5,162.5L616.2,160.0L616.2,155.0L614.5,149.5L611.2,146.2L609.5,141.2L610.5,135.0L611.2,130.0L607.5,126.2L602.5,121.2L598.8,115.0L595.0,109.5L590.0,112.5L584.5,116.2L586.2,123.8L583.8,127.5L578.8,130.0L572.5,131.2L572.3,131.3L572.5,132.8L568.2,134.3Z" fill="#A3B3BF"/>
<path d="M558.8,173.3L557.7,177.7L554.9,181.0L553.2,183.2L554.9,186.0L559.3,187.6L565.9,188.2L570.3,187.7L570.3,187.7L571.4,187.6L576.9,186.5L584.6,185.4L592.3,184.9L601.2,184.1L610.0,184.1L616.6,183.8L617.1,183.7L617.4,184.1L617.5,184.2L620.0,183.8L620.8,183.9L626.2,185.0L632.5,187.5L637.5,190.0L642.5,192.5L648.8,190.0L646.2,182.5L645.0,177.5L642.5,170.0L641.2,163.8L636.2,160.0L632.5,155.0L630.0,148.0L623.8,148.8L614.5,149.5L616.2,155.0L616.2,160.0L607.5,162.5L597.5,165.0L590.0,166.2L580.0,167.0L572.4,166.5L567.5,166.2L567.2,164.2L562.5,165.0L555.0,166.2L556.1,169.6L557.0,172.5L558.6,172.3Z" fill="#FFFDC0"/>
<path d="M479.8,172.3L476.2,171.2L472.0,168.2L467.5,165.0L463.8,161.2L460.0,156.2L455.0,156.2L450.0,154.5L446.2,155.0L445.0,160.0L444.5,167.5L443.0,175.0L442.0,179.5L450.0,183.0L457.5,186.2L463.8,192.5L465.9,199.0L465.8,199.0L465.0,202.1L464.8,203.0L466.8,205.9L469.3,207.9L469.8,210.9L468.8,214.9L468.8,219.8L467.8,223.8L471.8,224.0L475.7,224.1L478.9,224.4L478.9,224.5L480.0,224.5L480.7,224.6L480.7,224.5L486.6,224.5L491.0,224.0L495.4,224.0L496.0,222.9L496.5,218.5L498.7,214.6L502.0,211.9L506.4,209.7L510.8,208.0L514.1,205.2L515.8,203.0L515.2,199.7L513.6,196.4L514.1,193.7L516.3,192.0L518.6,189.3L521.3,188.2L523.5,187.6L525.2,186.5L527.4,187.6L530.7,188.2L532.9,188.7L535.1,188.2L537.3,186.0L539.5,184.3L541.1,184.9L541.7,187.6L542.8,192.0L543.9,197.5L545.5,202.5L548.3,202.5L551.0,203.0L552.7,205.2L553.8,208.0L556.0,210.2L559.3,209.7L563.7,208.0L568.1,205.2L570.9,200.8L571.4,196.4L570.9,192.0L570.3,187.7L570.3,187.7L565.9,188.2L559.3,187.6L554.9,186.0L553.2,183.2L554.9,181.0L557.7,177.7L558.8,173.3L558.6,172.3L557.0,172.5L556.1,169.6L555.0,166.2L553.8,163.8L547.5,162.0L540.0,162.0L533.8,160.5L532.0,165.0L525.0,165.5L517.5,166.2L512.5,167.5L510.3,169.9L509.0,171.2L509.2,172.5L509.0,172.5L509.2,173.3L509.7,175.3L506.4,175.5L499.8,175.0L495.4,174.6L491.0,175.5L487.7,174.4L484.4,172.2L482.6,172.0L480.0,171.7Z" fill="#D63027"/>
<path d="M636.2,82.0L633.8,80.0L630.0,78.8L625.0,78.8L623.8,82.5L622.5,90.0L620.0,95.0L613.8,98.8L607.5,100.0L601.2,101.2L597.5,105.0L595.0,109.5L598.8,115.0L602.5,121.2L607.5,126.2L611.2,130.0L610.5,135.0L609.5,141.2L611.2,146.2L614.5,149.5L623.8,148.8L630.0,148.0L631.2,144.5L637.5,142.5L641.2,141.8L645.0,143.8L652.5,143.0L660.0,142.0L666.2,140.8L671.2,140.0L670.0,135.0L671.2,130.0L672.5,125.0L673.8,120.0L672.5,114.5L663.8,115.0L657.5,112.5L653.8,109.5L650.0,105.0L645.0,102.0L641.2,96.2L637.5,87.5Z" fill="#F4996A"/>
<path d="M685.5,103.2L682.5,103.8L678.8,102.5L680.0,95.0L679.5,90.0L678.0,86.2L678.8,78.8L679.5,73.8L677.5,70.0L671.2,68.8L666.2,70.0L661.2,71.2L656.2,73.0L652.5,73.8L647.5,71.2L642.5,72.5L638.8,76.2L636.2,82.0L637.5,87.5L641.2,96.2L645.0,102.0L650.0,105.0L653.8,109.5L657.5,112.5L663.8,115.0L672.5,114.5L673.8,112.5L677.5,109.5L681.2,106.2Z" fill="#4573B6"/>
<path d="M687.5,144.5L690.0,145.5L696.2,146.2L702.5,146.2L706.2,145.5L707.5,141.2L711.2,137.5L715.0,135.0L720.0,131.2L725.0,128.8L728.8,125.0L726.2,120.0L722.5,116.2L720.0,112.5L712.5,113.8L706.2,112.5L702.5,104.5L700.0,100.5L695.0,100.0L690.0,102.5L685.5,103.2L681.2,106.2L677.5,109.5L673.8,112.5L672.5,114.5L673.8,120.0L672.5,125.0L671.2,130.0L670.0,135.0L671.2,140.0L675.0,141.2L680.0,142.0L686.2,141.8Z" fill="#4573B6"/>
<path d="M648.8,190.0L653.8,188.8L657.5,186.2L662.5,183.8L665.0,180.0L668.8,178.8L671.2,176.2L670.0,173.8L668.8,170.0L670.0,166.2L671.2,161.2L675.0,157.5L680.0,152.5L683.8,147.5L687.5,144.5L686.2,141.8L680.0,142.0L675.0,141.2L671.2,140.0L666.2,140.8L660.0,142.0L652.5,143.0L645.0,143.8L641.2,141.8L637.5,142.5L631.2,144.5L630.0,148.0L632.5,155.0L636.2,160.0L641.2,163.8L642.5,170.0L645.0,177.5L646.2,182.5Z" fill="#A3B3BF"/>
<path d="M621.0,219.6L619.3,218.5L619.0,218.2L616.6,216.3L613.8,211.9L612.2,206.3L611.1,200.8L610.0,194.2L611.1,190.9L615.5,185.4L617.4,184.1L617.1,183.7L616.6,183.8L610.0,184.1L601.2,184.1L592.3,184.9L584.6,185.4L576.9,186.5L571.4,187.6L570.3,187.7L570.9,192.0L571.4,196.4L570.9,200.8L568.1,205.2L563.7,208.0L559.3,209.7L556.0,210.2L553.8,208.0L552.7,205.2L551.0,203.0L548.3,202.5L545.5,202.5L541.7,205.2L538.4,209.1L535.1,212.4L530.7,215.2L526.3,217.4L521.9,219.0L519.1,221.2L519.1,225.1L520.8,228.4L524.1,231.7L527.4,233.9L529.0,235.5L527.4,235.5L526.2,235.7L526.3,236.1L522.4,238.3L522.2,239.2L521.4,242.5L521.1,242.5L521.1,243.3L521.7,247.7L521.1,252.1L518.9,256.5L516.7,259.8L516.2,263.1L514.5,267.5L512.3,271.9L511.2,276.3L512.3,280.7L515.6,283.5L518.9,280.7L522.2,277.4L525.6,273.0L528.9,271.4L533.3,268.6L537.7,266.4L541.0,265.3L544.3,266.4L547.6,266.4L552.0,265.3L556.4,263.1L560.8,260.9L563.0,259.3L561.9,255.4L560.8,252.1L558.6,248.8L556.4,246.1L557.4,242.6L557.5,242.2L556.4,238.9L556.3,239.0L554.9,237.2L552.7,236.1L549.9,235.5L550.5,232.8L552.7,231.7L557.1,230.6L561.5,230.0L564.8,228.9L567.0,229.5L570.3,230.6L573.6,229.5L575.8,227.8L579.1,226.2L582.4,225.1L584.6,224.5L590.1,225.6L595.7,226.2L601.2,227.3L606.7,228.4L612.2,229.5L616.6,231.7L617.6,230.0L617.5,230.0L618.0,229.0L617.5,228.8L618.8,222.5L618.0,221.0Z" fill="#D63027"/>
<path d="M633.8,252.5L637.3,252.3L637.5,255.0L636.2,262.5L635.0,270.0L633.8,280.0L632.5,290.0L631.2,300.0L630.0,308.8L635.0,300.0L640.0,293.8L643.8,288.8L647.5,287.5L650.0,291.2L652.5,295.0L656.2,298.8L662.5,301.2L670.0,302.5L677.5,303.0L681.2,303.8L690.0,298.8L697.5,293.8L700.0,289.5L695.0,283.8L687.5,278.8L683.8,275.0L685.0,270.0L690.0,265.0L695.0,260.0L692.5,257.5L685.0,255.0L683.2,252.3L682.8,252.5L682.0,251.2L679.4,248.0L677.0,245.0L672.0,237.5L667.5,230.0L666.2,223.0L660.0,225.0L650.0,227.5L640.0,228.2L630.0,228.8L620.0,230.0L618.0,229.0L617.5,230.0L617.6,230.0L622.5,233.0L627.5,238.8L632.0,245.5L632.8,248.6Z" fill="#A3B3BF"/>
<path d="M682.0,251.2L682.8,252.5L683.2,252.3L685.0,255.0L692.5,257.5L695.0,260.0L690.0,265.0L685.0,270.0L683.8,275.0L687.5,278.8L695.0,283.8L700.0,289.5L697.5,293.8L690.0,298.8L681.2,303.8L681.2,310.0L686.2,317.5L691.9,322.0L692.5,321.2L697.5,315.5L702.5,310.5L706.2,306.2L705.0,300.0L707.5,295.0L712.5,290.0L717.5,285.0L720.0,280.0L725.0,276.2L732.5,275.0L745.0,273.8L750.0,270.0L751.2,265.3L751.2,265.0L750.0,260.0L751.2,255.0L752.5,247.5L752.8,244.0L745.0,243.2L730.0,242.5L717.5,241.2L713.8,236.2L716.2,230.0L715.0,225.5L711.2,223.0L702.5,223.0L698.8,220.5L698.8,212.5L695.5,209.2L695.0,208.8L695.3,209.4L695.0,209.5L687.5,215.0L680.0,218.8L672.5,221.2L666.2,223.0L667.5,230.0L672.0,237.5L677.0,245.0L679.4,248.0Z" fill="#4573B6"/>
<path d="M792.5,248.8L790.0,245.0L785.0,237.5L780.0,230.0L772.5,220.0L765.0,213.8L755.0,207.5L745.0,202.0L740.0,200.0L730.0,198.2L720.0,199.5L710.0,203.0L700.0,207.0L695.5,209.2L698.8,212.5L698.8,220.5L702.5,223.0L711.2,223.0L715.0,225.5L716.2,230.0L713.8,236.2L717.5,241.2L730.0,242.5L745.0,243.2L752.8,244.0L757.5,244.5L767.5,244.0L777.5,243.8L785.0,245.0L790.0,247.5L791.9,249.4Z" fill="#4573B6"/>
<path d="M627.5,238.8L622.5,233.0L617.6,230.0L616.6,231.7L612.2,229.5L606.7,228.4L601.2,227.3L595.7,226.2L590.1,225.6L584.6,224.5L582.4,225.1L579.1,226.2L575.8,227.8L573.6,229.5L570.3,230.6L567.0,229.5L564.8,228.9L561.5,230.0L557.1,230.6L552.7,231.7L550.5,232.8L549.9,235.5L552.7,236.1L554.9,237.2L556.3,239.0L556.4,238.9L557.5,242.2L557.4,242.6L556.4,246.1L558.6,248.8L560.8,252.1L561.9,255.4L563.0,259.3L566.3,262.0L569.6,265.3L572.9,268.6L576.2,270.8L580.6,273.0L583.9,275.2L586.1,279.6L586.7,280.5L588.3,283.0L588.5,283.0L588.8,283.8L589.7,291.4L590.0,293.8L592.0,302.5L593.1,307.2L593.8,310.0L600.0,305.0L610.0,303.0L618.8,305.0L626.2,310.0L630.0,308.8L631.2,300.0L632.5,290.0L633.8,280.0L635.0,270.0L636.2,262.5L637.5,255.0L637.3,252.3L633.8,252.5L632.8,248.6L632.0,245.5ZM596.8,248.2L601.2,244.9L605.6,246.0L606.7,249.3L608.9,248.2L613.3,247.1L616.0,249.3L616.6,253.7L615.5,258.1L613.3,262.5L610.0,263.6L606.7,262.5L603.4,261.4L599.0,259.8L594.6,258.1L595.7,252.6Z" fill="#F4996A"/>
<path d="M777.5,243.8L767.5,244.0L757.5,244.5L752.8,244.0L752.5,247.5L751.2,255.0L750.0,260.0L751.2,265.0L751.2,265.3L751.8,265.4L760.0,267.5L767.5,268.8L771.2,272.5L772.5,277.5L775.0,282.5L782.5,280.0L788.5,277.0L790.0,276.2L792.5,275.5L792.3,274.2L795.0,273.8L800.0,276.2L803.8,280.0L807.5,278.8L813.8,277.5L817.5,281.2L822.5,285.0L826.2,290.0L831.2,295.0L835.0,300.0L835.8,302.5L836.0,302.6L836.2,302.0L837.5,302.5L838.8,301.2L842.5,300.0L844.5,297.5L848.8,293.8L852.5,290.0L857.5,286.2L862.5,283.8L867.5,281.2L872.5,278.8L877.5,278.0L882.5,277.0L886.2,275.0L883.8,272.5L877.5,273.0L872.5,274.5L865.0,275.0L860.0,274.5L852.5,272.5L845.0,270.0L838.8,267.5L832.5,266.2L826.2,263.8L820.0,260.0L813.8,261.2L807.5,261.2L801.2,257.5L795.0,252.5L791.9,249.4L790.0,247.5L785.0,245.0Z" fill="#D63027"/>
<path d="M938.0,119.5L940.0,122.5L938.8,125.0L940.0,128.2L943.8,128.0L946.2,127.0L950.0,126.2L953.8,126.5L957.5,127.0L959.5,124.5L958.0,122.5L955.0,122.5L952.5,124.5L950.0,123.0L947.5,124.5L945.0,123.0L942.5,121.2L940.0,118.8Z" fill="#FFFDC0"/>
<path d="M592.0,302.5L590.0,293.8L589.7,291.4L588.8,283.8L588.5,283.0L588.3,283.0L586.7,280.5L586.1,279.6L583.9,275.2L580.6,273.0L576.2,270.8L572.9,268.6L569.6,265.3L566.3,262.0L563.0,259.3L560.8,260.9L556.4,263.1L552.0,265.3L547.6,266.4L544.3,266.4L541.0,265.3L537.7,266.4L533.3,268.6L528.9,271.4L525.6,273.0L522.2,277.4L518.9,280.7L515.6,283.5L515.1,286.3L513.4,287.4L510.1,286.3L506.8,285.7L503.5,286.3L503.5,289.6L503.0,294.0L501.9,297.3L499.1,298.4L495.8,298.4L492.5,297.8L488.1,298.9L484.8,300.6L481.5,300.0L478.7,298.9L479.3,301.7L480.4,305.0L482.6,307.2L485.9,308.8L489.2,309.4L492.5,312.7L493.6,313.8L496.9,317.1L499.1,321.5L499.1,328.1L499.1,328.2L499.7,329.9L501.4,332.4L502.0,333.3L506.9,336.6L511.9,339.9L513.6,343.2L516.9,344.9L521.8,343.2L526.8,341.6L531.7,339.1L533.4,337.4L535.0,339.9L536.7,343.2L540.0,344.9L543.3,346.5L544.9,351.5L545.8,356.4L546.6,359.7L545.8,363.0L549.9,367.2L554.9,367.2L561.5,363.0L568.1,359.7L571.4,356.4L574.6,351.6L574.7,351.5L575.4,351.1L577.5,350.0L579.0,349.6L582.5,348.8L585.0,346.2L588.0,340.0L588.8,332.5L590.0,325.0L591.6,319.3L592.5,316.2L592.9,314.1L593.8,310.0L593.1,307.2Z" fill="#A3B3BF"/>
<path d="M590.0,325.0L588.8,332.5L588.0,340.0L585.0,346.2L582.5,348.8L585.0,350.0L588.8,355.0L592.5,360.0L597.5,367.5L602.5,372.5L610.0,375.0L617.5,375.0L622.5,373.8L626.2,376.2L631.2,370.0L635.0,365.0L636.2,357.5L637.5,350.0L642.5,345.0L650.0,340.0L657.5,338.0L665.0,337.5L672.5,336.2L680.0,337.0L685.0,341.2L690.0,342.0L698.0,341.2L698.8,335.0L697.5,327.5L692.5,322.5L691.9,322.0L686.2,317.5L681.2,310.0L681.2,303.8L677.5,303.0L670.0,302.5L662.5,301.2L656.2,298.8L652.5,295.0L650.0,291.2L647.5,287.5L643.8,288.8L640.0,293.8L635.0,300.0L630.0,308.8L626.2,310.0L618.8,305.0L610.0,303.0L600.0,305.0L593.8,310.0L592.9,314.1L592.5,316.2L591.6,319.3Z" fill="#A3B3BF"/>
<path d="M577.5,350.0L575.4,351.1L574.7,351.5L574.6,351.6L571.4,356.4L568.1,359.7L561.5,363.0L554.9,367.2L549.9,367.2L545.8,363.0L541.6,368.0L538.3,371.3L535.0,376.3L531.7,379.6L526.8,384.5L525.1,389.5L523.5,396.1L520.2,402.7L515.2,409.3L512.7,414.3L511.1,420.0L515.2,419.2L520.2,421.7L525.1,422.5L529.5,424.0L530.1,424.2L531.1,424.5L532.4,424.3L533.1,424.2L536.2,424.6L538.5,426.2L540.0,429.2L542.3,430.8L545.4,431.6L547.7,433.9L550.0,434.6L553.1,434.6L554.7,436.2L555.4,438.5L556.2,440.8L557.7,440.0L559.3,439.3L560.1,440.8L560.1,441.1L561.6,438.9L563.3,436.3L566.6,431.9L571.0,426.4L576.5,422.0L582.0,419.6L585.9,418.7L587.0,423.1L587.5,417.6L586.4,413.8L582.6,411.0L584.8,407.2L588.1,403.9L591.9,402.4L592.8,402.1L595.1,401.1L595.2,401.1L595.3,401.0L596.9,399.9L600.0,397.5L605.0,393.8L610.0,388.8L615.0,385.0L620.0,383.8L623.8,382.5L627.5,380.0L626.2,376.2L622.5,373.8L617.5,375.0L610.0,375.0L602.5,372.5L597.5,367.5L592.5,360.0L588.8,355.0L585.0,350.0L582.5,348.8L579.0,349.6Z" fill="#A3B3BF"/>
<path d="M750.0,300.0L740.0,301.2L738.4,301.4L725.0,302.5L715.0,303.8L706.2,306.2L702.5,310.5L697.5,315.5L692.5,321.2L691.9,322.0L692.5,322.5L697.5,327.5L698.8,335.0L698.0,341.2L705.0,340.0L712.5,341.2L720.0,342.5L721.2,350.0L721.2,360.0L725.0,352.5L730.0,348.8L737.5,346.2L738.4,346.1L742.5,345.4L742.9,346.5L745.3,345.6L750.6,343.0L753.2,342.3L757.2,343.6L759.8,344.3L762.5,343.4L766.4,342.0L770.4,340.3L773.1,338.3L774.6,337.0L776.4,338.3L778.3,340.3L782.3,339.7L787.6,338.3L792.9,337.0L796.8,335.0L800.8,333.1L806.1,330.4L810.1,327.8L814.0,324.5L818.0,320.1L814.0,321.2L806.1,322.2L795.5,322.7L787.6,321.8L783.6,318.5L782.3,314.5L781.0,310.6L777.0,309.3L770.4,308.6L766.4,307.3L765.8,304.0L765.6,302.4L764.6,302.5L763.8,300.0L763.6,299.7L761.2,296.2L758.1,297.3Z" fill="#A3B3BF"/>
<path d="M715.0,303.8L725.0,302.5L738.4,301.4L740.0,301.2L750.0,300.0L758.1,297.3L761.2,296.2L763.6,299.7L763.8,300.0L764.6,302.5L765.6,302.4L765.8,304.0L766.4,307.3L770.4,308.6L777.0,309.3L781.0,310.6L782.3,314.5L783.6,318.5L787.6,321.8L795.5,322.7L806.1,322.2L814.0,321.2L818.0,320.1L819.3,318.5L822.0,315.9L825.9,312.6L831.2,310.3L834.5,306.6L836.0,302.6L835.8,302.5L835.0,300.0L831.2,295.0L826.2,290.0L822.5,285.0L817.5,281.2L813.8,277.5L807.5,278.8L803.8,280.0L800.0,276.2L795.0,273.8L792.3,274.2L792.5,275.5L790.0,276.2L788.5,277.0L782.5,280.0L775.0,282.5L772.5,277.5L771.2,272.5L767.5,268.8L760.0,267.5L751.8,265.4L751.2,265.3L750.0,270.0L745.0,273.8L732.5,275.0L725.0,276.2L720.0,280.0L717.5,285.0L712.5,290.0L707.5,295.0L705.0,300.0L706.2,306.2Z" fill="#D63027"/>
<path d="M698.0,341.2L690.0,342.0L685.0,341.2L680.0,337.0L672.5,336.2L665.0,337.5L657.5,338.0L650.0,340.0L642.5,345.0L637.5,350.0L636.2,357.5L635.0,365.0L631.2,370.0L626.2,376.2L627.5,380.0L632.5,381.2L636.2,382.5L638.8,386.2L637.5,390.0L638.8,395.0L645.0,392.5L652.5,391.2L660.0,387.5L662.5,383.8L670.0,382.5L677.5,380.0L685.0,381.2L692.5,380.0L700.0,378.8L706.2,377.5L712.5,378.8L718.8,375.0L720.0,367.5L721.2,360.0L721.2,350.0L720.0,342.5L712.5,341.2L705.0,340.0Z" fill="#F4996A"/>
<path d="M737.5,346.2L730.0,348.8L725.0,352.5L721.2,360.0L720.0,367.5L718.8,375.0L712.5,378.8L710.0,386.2L710.0,393.8L715.0,400.0L721.2,403.8L725.0,410.0L726.2,417.0L735.0,417.5L739.6,416.9L742.5,416.6L742.5,409.7L746.6,409.7L753.2,408.7L757.2,407.7L761.2,409.1L763.1,411.1L765.8,406.4L768.4,402.5L773.1,402.5L775.7,397.8L777.7,391.2L781.0,387.3L784.9,389.9L788.9,395.2L792.9,401.1L796.8,404.4L803.5,404.4L810.1,403.1L814.0,399.2L818.0,394.5L820.0,389.9L820.6,386.6L818.0,385.9L816.0,383.3L814.7,378.0L813.4,372.7L812.1,367.4L810.1,363.5L806.1,362.1L800.8,360.2L795.5,356.8L790.2,354.2L784.9,352.2L781.0,353.5L777.7,355.5L774.4,359.5L771.7,362.8L768.4,364.8L764.5,362.1L761.2,360.2L759.2,355.5L758.5,350.2L759.8,344.3L757.2,343.6L753.2,342.3L750.6,343.0L745.3,345.6L742.9,346.5L742.5,345.4L738.4,346.1Z" fill="#A3B3BF"/>
<path d="M591.9,402.4L588.1,403.9L584.8,407.2L582.6,411.0L586.4,413.8L587.5,417.6L587.0,423.1L585.9,418.7L582.0,419.6L576.5,422.0L571.0,426.4L566.6,431.9L563.3,436.3L561.6,438.9L560.1,441.1L560.4,442.0L559.3,442.5L557.7,443.1L555.4,444.7L553.1,446.2L551.6,448.5L552.4,450.1L553.1,452.4L553.9,455.5L555.4,459.3L557.7,462.4L559.2,463.5L560.4,464.4L562.2,465.0L562.7,465.1L565.5,465.8L568.8,465.5L571.6,466.1L573.8,467.4L575.4,467.2L578.7,466.6L584.2,466.1L588.6,465.0L591.9,463.9L595.2,462.8L598.6,462.2L601.9,460.6L606.3,458.4L610.7,457.3L615.1,455.1L617.3,452.9L617.8,448.5L618.4,444.1L620.6,441.9L626.1,441.3L629.9,440.8L628.8,435.2L628.3,430.8L627.2,427.5L625.0,425.3L623.9,422.0L626.1,419.8L629.4,417.6L630.5,414.3L627.7,412.7L626.6,409.9L628.3,407.2L632.3,404.7L630.9,402.5L633.8,398.8L637.2,396.1L638.8,395.0L637.5,390.0L638.8,386.2L636.2,382.5L632.5,381.2L627.5,380.0L623.8,382.5L620.0,383.8L615.0,385.0L610.0,388.8L605.0,393.8L600.0,397.5L596.9,399.9L595.3,401.0L595.2,401.1L595.1,401.1L592.8,402.1Z" fill="#FFFDC0"/>
<path d="M633.8,398.8L630.9,402.5L632.3,404.7L628.3,407.2L626.6,409.9L627.7,412.7L630.5,414.3L629.4,417.6L626.1,419.8L623.9,422.0L625.0,425.3L627.2,427.5L628.3,430.8L628.8,435.2L629.9,440.8L634.9,439.1L638.2,439.1L641.5,441.9L647.0,446.0L651.4,443.0L655.8,439.7L661.3,436.3L666.8,433.0L671.2,430.8L676.8,430.8L681.2,431.9L684.5,433.0L687.8,430.8L692.2,427.5L695.5,425.9L697.7,426.1L701.0,426.4L700.8,427.6L710.0,428.8L716.2,430.0L718.8,427.5L722.5,422.5L726.2,417.0L725.0,410.0L721.2,403.8L715.0,400.0L710.0,393.8L710.0,386.2L712.5,378.8L706.2,377.5L700.0,378.8L692.5,380.0L685.0,381.2L677.5,380.0L670.0,382.5L662.5,383.8L660.0,387.5L652.5,391.2L645.0,392.5L638.8,395.0L637.2,396.1Z" fill="#F4996A"/>
<path d="M798.8,421.0L796.8,418.3L790.2,417.7L782.3,417.0L774.4,416.1L769.2,416.3L767.8,416.3L763.8,415.0L763.1,411.1L761.2,409.1L757.2,407.7L753.2,408.7L746.6,409.7L742.5,409.7L742.5,416.6L739.6,416.9L735.0,417.5L726.2,417.0L722.5,422.5L718.8,427.5L716.2,430.0L725.0,435.0L735.0,442.5L738.4,443.3L741.6,444.1L742.2,443.8L746.6,441.6L751.0,443.8L755.4,448.2L759.8,452.6L764.2,458.1L767.5,463.6L775.2,463.6L784.0,464.7L792.8,464.7L799.4,463.2L797.2,460.3L792.8,457.0L784.0,454.4L777.4,450.4L775.2,446.5L779.6,447.8L787.3,450.9L795.0,452.6L801.6,452.2L808.2,450.9L812.2,448.2L808.2,443.8L806.0,438.3L807.1,434.6L801.6,432.8L792.8,431.1L784.0,430.6L778.5,435.0L777.4,430.6L780.7,426.7L787.3,427.3L793.9,427.3L796.1,424.0L795.4,422.5Z" fill="#4573B6"/>
<path d="M697.7,426.1L695.5,425.9L692.2,427.5L687.8,430.8L684.5,433.0L681.2,431.9L676.8,430.8L671.2,430.8L666.8,433.0L661.3,436.3L655.8,439.7L651.4,443.0L647.0,446.0L652.5,451.8L656.9,457.3L661.3,463.9L663.5,469.4L665.2,477.1L665.7,482.6L664.6,487.0L670.1,490.3L675.7,493.6L681.2,496.9L686.7,499.1L691.1,496.9L695.5,494.9L697.2,494.5L697.5,495.5L700.0,495.0L701.2,494.9L710.0,493.8L720.0,493.8L730.0,492.5L737.6,490.6L737.8,491.6L740.0,491.2L744.4,489.0L744.8,488.2L748.8,481.3L751.0,480.2L755.4,482.4L759.8,484.6L764.2,486.8L768.6,490.1L773.0,492.3L775.2,491.2L781.8,489.0L788.4,486.8L793.9,484.6L797.2,480.2L800.5,476.9L803.8,475.8L801.6,472.4L803.8,468.0L803.8,462.5L799.4,463.2L792.8,464.7L784.0,464.7L775.2,463.6L767.5,463.6L764.2,458.1L759.8,452.6L755.4,448.2L751.0,443.8L746.6,441.6L742.2,443.8L741.6,444.1L738.4,443.3L735.0,442.5L725.0,435.0L716.2,430.0L710.0,428.8L700.8,427.6L701.0,426.4Z" fill="#FFFDC0"/>
<path d="M364.8,290.1L363.8,289.3L363.7,289.2L363.3,288.9L361.6,287.5L361.5,287.6L359.7,286.2L356.8,284.5L351.8,284.3L349.3,281.3L350.3,278.3L354.3,274.4L356.0,270.9L353.8,268.4L348.8,266.2L349.8,265.2L355.8,265.6L359.7,265.6L360.0,265.1L359.7,264.9L359.7,264.5L356.8,263.4L351.8,262.0L347.8,260.5L342.9,259.5L337.9,258.5L335.0,256.5L334.0,253.5L332.6,253.2L332.5,253.4L331.7,253.1L329.0,253.1L326.4,253.1L321.1,251.8L318.5,249.6L313.2,249.8L309.3,250.5L305.3,251.8L300.0,253.1L297.5,253.5L297.5,253.5L296.2,260.0L295.0,265.0L290.0,265.5L286.2,267.5L285.0,273.8L282.5,277.5L277.5,280.0L272.5,282.5L270.0,286.2L267.5,291.2L266.2,297.5L265.0,302.5L260.0,307.5L256.2,312.5L252.5,317.5L245.0,320.0L240.0,322.5L235.0,325.0L230.0,330.0L225.0,333.8L223.8,338.8L222.5,342.5L217.5,343.8L210.0,345.0L205.0,347.5L200.0,348.8L193.8,347.5L190.0,348.8L195.0,350.5L200.0,355.0L205.0,360.0L210.0,365.0L217.5,368.8L225.0,371.2L232.5,372.5L237.5,375.0L242.5,377.5L245.0,382.5L246.2,387.5L245.0,393.8L247.5,400.0L248.8,401.2L255.0,400.0L262.5,399.5L267.5,397.5L271.2,396.2L276.2,390.0L282.5,385.0L290.0,380.0L296.8,376.6L297.5,376.2L305.0,372.5L312.5,370.0L320.0,367.5L327.5,365.0L335.0,360.0L340.0,355.0L345.0,350.0L347.5,347.5L348.3,347.3L348.8,347.3L348.7,347.1L351.4,345.1L351.7,344.9L355.0,341.6L359.9,336.6L363.9,334.3L362.9,332.5L360.8,330.4L360.1,326.5L360.8,322.5L363.4,319.9L367.4,315.9L371.4,311.9L376.4,308.0L369.4,305.3L368.1,302.7L368.7,298.7L367.4,296.1L365.4,293.4L364.9,290.7Z" fill="#FFFDC0"/>
<path d="M190.0,348.8L191.2,352.5L187.5,356.2L182.5,358.8L177.5,360.0L171.2,363.8L170.0,367.5L167.5,372.5L165.0,377.5L160.0,382.5L152.5,383.8L148.8,385.0L147.5,390.0L145.0,395.0L141.2,397.5L140.0,402.5L141.2,410.0L140.0,415.0L142.5,420.0L145.0,425.0L146.2,430.0L150.0,435.0L152.5,440.0L155.0,445.0L162.5,448.0L170.0,450.5L173.0,452.5L170.5,454.5L175.0,454.0L180.0,451.2L183.8,450.0L190.0,450.0L196.2,447.5L198.8,442.5L205.0,441.2L210.0,440.0L215.0,437.5L218.8,432.5L225.0,427.5L230.0,422.5L235.0,417.5L240.0,412.5L245.0,406.2L248.8,401.2L247.5,400.0L245.0,393.8L246.2,387.5L245.0,382.5L242.5,377.5L237.5,375.0L232.5,372.5L225.0,371.2L217.5,368.8L210.0,365.0L205.0,360.0L200.0,355.0L195.0,350.5Z" fill="#A3B3BF"/>
<path d="M187.0,465.0L192.0,470.0L194.6,471.8L195.7,472.5L199.2,469.7L201.6,472.7L201.2,473.0L202.5,473.8L203.8,474.5L210.0,476.2L217.5,477.0L222.5,472.5L225.6,469.4L227.5,467.5L232.5,465.0L240.0,462.5L247.5,460.0L255.0,457.5L259.5,455.2L260.0,455.0L262.5,450.0L260.0,445.0L257.5,440.0L260.0,432.5L262.5,425.0L265.0,420.0L268.8,412.5L270.0,402.5L271.2,396.2L267.5,397.5L262.5,399.5L255.0,400.0L248.8,401.2L245.0,406.2L240.0,412.5L235.0,417.5L230.0,422.5L225.0,427.5L218.8,432.5L215.0,437.5L210.0,440.0L205.0,441.2L198.8,442.5L196.2,447.5L190.0,450.0L183.8,450.0L180.0,451.2L183.8,452.0L185.5,457.5Z" fill="#FFFDC0"/>
<path d="M359.9,336.6L355.0,341.6L351.7,344.9L351.4,345.1L348.7,347.1L348.8,347.3L348.3,347.3L347.5,347.5L345.0,350.0L340.0,355.0L335.0,360.0L327.5,365.0L320.0,367.5L312.5,370.0L305.0,372.5L297.5,376.2L296.8,376.6L297.0,377.0L305.0,382.5L310.0,387.5L313.8,395.0L323.8,397.5L335.0,397.5L345.0,396.2L350.0,393.8L351.7,390.3L352.5,388.8L352.2,387.7L355.8,386.5L359.9,389.5L363.2,387.8L368.2,384.5L373.1,382.9L376.4,377.9L375.6,371.3L377.3,364.7L381.4,361.4L385.5,359.7L388.8,363.0L392.1,361.4L394.6,363.0L396.3,368.0L398.7,373.0L402.9,375.4L407.8,373.8L411.1,370.5L416.1,368.8L421.0,366.3L427.6,362.2L434.3,358.1L440.9,355.6L446.6,354.0L445.0,349.8L445.8,346.5L448.3,343.2L450.8,341.6L449.1,339.1L450.8,336.6L453.9,331.9L454.1,331.7L454.4,330.4L452.9,329.2L449.6,328.1L446.3,327.0L443.0,328.1L440.7,325.9L438.5,322.6L435.2,319.3L430.8,318.2L427.5,316.0L425.3,311.6L422.0,306.1L419.8,301.7L416.5,301.1L411.0,303.9L405.5,305.0L402.7,303.8L400.0,302.8L398.9,302.2L398.9,302.3L398.5,302.0L395.1,302.0L391.2,300.7L387.2,299.4L385.2,298.1L383.3,299.4L380.6,303.3L376.4,308.0L371.4,311.9L367.4,315.9L363.4,319.9L360.8,322.5L360.1,326.5L360.8,330.4L362.9,332.5L363.9,334.3Z" fill="#F4996A"/>
<path d="M282.5,385.0L276.2,390.0L271.2,396.2L270.0,402.5L268.8,412.5L265.0,420.0L262.5,425.0L260.0,432.5L257.5,440.0L260.0,445.0L262.5,450.0L260.0,455.0L259.5,455.2L260.0,456.2L265.0,465.0L267.7,469.0L270.0,472.5L270.8,472.4L271.2,475.0L275.0,482.5L280.0,495.0L279.5,507.5L277.5,520.0L277.5,522.5L285.0,521.2L290.0,520.0L295.0,517.5L300.0,513.8L302.5,507.5L305.0,501.2L312.5,495.0L320.0,490.0L326.2,486.2L328.8,477.5L329.4,472.3L331.4,472.5L332.4,468.0L332.5,467.5L333.8,460.0L335.0,450.0L335.0,440.0L333.8,432.5L331.2,425.0L330.0,415.0L327.5,405.0L323.8,397.5L313.8,395.0L310.0,387.5L305.0,382.5L297.0,377.0L296.8,376.6L290.0,380.0ZM294.6,434.2L299.0,438.0L302.2,441.8L306.0,447.0L308.3,452.0L308.0,457.0L307.3,462.0L306.0,466.0L304.7,469.7L302.2,474.7L298.0,471.0L294.6,467.0L289.6,459.5L284.5,454.5L279.4,449.4L276.9,441.8L277.9,434.2L282.0,430.7L288.0,431.5Z" fill="#F4996A"/>
<path d="M259.5,455.2L255.0,457.5L247.5,460.0L240.0,462.5L232.5,465.0L227.5,467.5L225.6,469.4L222.5,472.5L217.5,477.0L210.0,476.2L203.8,474.5L202.5,473.8L205.0,477.5L207.5,482.5L208.8,490.0L211.2,497.5L210.0,502.5L212.5,507.5L211.2,513.8L210.0,520.0L212.5,527.5L216.2,532.5L217.5,537.5L216.2,542.5L215.0,547.5L217.5,555.0L220.0,560.0L217.5,563.8L212.5,566.2L211.2,568.8L215.0,571.2L218.8,572.5L222.5,573.8L225.0,570.0L230.0,568.8L235.0,570.0L240.0,568.8L242.5,571.2L246.2,570.0L250.0,568.8L255.0,567.5L260.0,565.0L261.2,560.0L262.5,555.0L263.8,550.0L266.2,545.0L267.5,542.5L266.2,535.0L267.5,527.5L270.0,525.0L277.5,522.5L277.5,520.0L279.5,507.5L280.0,495.0L275.0,482.5L271.2,475.0L270.8,472.4L270.0,472.5L267.7,469.0L265.0,465.0L260.0,456.2Z" fill="#FFFDC0"/>
<path d="M335.0,397.5L323.8,397.5L327.5,405.0L330.0,415.0L331.2,425.0L333.8,432.5L335.0,440.0L335.0,450.0L333.8,460.0L332.5,467.5L332.4,468.0L331.4,472.5L329.4,472.3L328.8,477.5L326.2,486.2L330.0,487.5L342.5,483.8L348.0,481.9L350.0,481.2L352.5,480.9L352.3,479.7L357.5,478.8L365.0,476.2L367.3,476.0L371.1,475.5L375.0,475.0L375.0,472.5L375.1,472.5L376.3,467.8L376.4,467.1L375.6,458.9L374.0,450.6L370.7,445.6L372.3,442.3L376.4,432.4L377.3,425.0L374.8,420.0L369.8,417.6L364.9,414.3L359.9,409.3L358.3,402.7L357.4,396.1L353.3,392.0L355.8,386.5L352.2,387.7L352.5,388.8L351.7,390.3L350.0,393.8L345.0,396.2Z" fill="#FFFDC0"/>
<path d="M359.7,264.9L360.0,265.1L359.7,265.6L355.8,265.6L349.8,265.2L348.8,266.2L353.8,268.4L356.0,270.9L354.3,274.4L350.3,278.3L349.3,281.3L351.8,284.3L356.8,284.5L359.7,286.2L361.5,287.6L361.6,287.5L363.3,288.9L363.7,289.2L363.8,289.3L364.8,290.1L364.9,290.7L365.4,293.4L367.4,296.1L368.7,298.7L368.1,302.7L369.4,305.3L376.4,308.0L380.6,303.3L383.3,299.4L385.2,298.1L387.2,299.4L391.2,300.7L395.1,302.0L398.5,302.0L398.9,302.3L398.9,302.2L400.0,302.8L402.7,303.8L405.5,305.0L411.0,303.9L416.5,301.1L419.8,301.7L422.0,306.1L425.3,311.6L427.5,316.0L430.8,318.2L435.2,319.3L438.5,322.6L440.7,325.9L443.0,328.1L446.3,327.0L449.6,328.1L452.9,329.2L454.4,330.4L454.9,328.3L456.1,328.5L456.2,328.1L456.7,323.7L458.4,319.3L461.7,316.0L465.0,314.9L468.3,313.2L472.7,313.8L477.1,314.9L480.4,316.0L485.9,314.9L490.3,313.8L493.6,313.8L492.5,312.7L489.2,309.4L485.9,308.8L482.6,307.2L480.4,305.0L479.3,301.7L478.7,298.9L477.1,297.8L473.8,296.7L472.1,294.5L472.7,291.8L475.4,289.6L476.0,286.3L474.9,284.1L471.6,283.5L468.3,281.9L466.1,279.1L462.8,277.4L457.3,278.0L451.8,278.5L446.3,278.0L441.9,276.3L439.6,274.1L438.5,271.4L436.3,269.2L433.0,268.6L428.6,266.4L425.3,263.7L422.0,260.9L418.7,259.3L414.3,258.2L413.2,254.3L412.1,251.0L409.9,247.7L407.7,243.3L406.9,242.1L405.3,240.2L403.4,237.7L400.4,237.2L397.4,237.2L395.4,237.7L393.4,239.7L392.5,243.6L392.5,247.6L393.0,253.5L391.5,256.5L386.5,257.0L382.5,256.5L379.6,255.5L376.6,254.0L372.6,255.0L369.7,254.5L366.7,254.0L362.7,255.0L360.2,256.5L359.7,259.5L359.7,264.5Z" fill="#FFFDC0"/>
<path d="M522.2,239.2L522.4,238.3L526.3,236.1L526.2,235.7L523.0,236.1L518.6,238.3L514.1,239.4L509.7,238.3L505.3,237.2L500.9,236.1L497.6,232.8L496.0,227.3L495.4,224.0L491.0,224.0L486.6,224.5L480.7,224.5L480.7,224.6L480.0,224.5L478.9,224.5L478.9,224.4L475.7,224.1L471.8,224.0L467.8,223.8L465.8,228.7L462.8,233.7L457.9,238.2L452.9,240.2L447.0,240.2L443.0,239.2L439.1,236.2L436.1,233.2L433.1,231.7L429.1,230.7L426.2,228.7L424.2,226.8L421.7,223.8L421.2,220.8L420.2,218.8L417.2,219.3L414.3,221.3L411.3,224.3L408.3,226.3L405.3,226.8L403.4,226.0L401.4,225.6L398.4,227.8L396.4,229.2L394.9,230.7L395.4,232.7L398.4,234.2L399.4,235.2L397.4,237.2L400.4,237.2L403.4,237.7L405.3,240.2L406.9,242.1L407.7,243.3L409.9,247.7L412.1,251.0L413.2,254.3L414.3,258.2L418.7,259.3L422.0,260.9L425.3,263.7L428.6,266.4L433.0,268.6L436.3,269.2L438.5,271.4L439.6,274.1L441.9,276.3L446.3,278.0L451.8,278.5L457.3,278.0L462.8,277.4L466.1,279.1L468.3,281.9L471.6,283.5L474.9,284.1L476.0,286.3L475.4,289.6L472.7,291.8L472.1,294.5L473.8,296.7L477.1,297.8L478.7,298.9L481.5,300.0L484.8,300.6L488.1,298.9L492.5,297.8L495.8,298.4L499.1,298.4L501.9,297.3L503.0,294.0L503.5,289.6L503.5,286.3L506.8,285.7L510.1,286.3L513.4,287.4L515.1,286.3L515.6,283.5L512.3,280.7L511.2,276.3L512.3,271.9L514.5,267.5L516.2,263.1L516.7,259.8L518.9,256.5L521.1,252.1L521.7,247.7L521.1,243.3L521.1,242.5L521.4,242.5Z" fill="#FFFDC0"/>
<path d="M545.5,202.5L543.9,197.5L542.8,192.0L541.7,187.6L541.1,184.9L539.5,184.3L537.3,186.0L535.1,188.2L532.9,188.7L530.7,188.2L527.4,187.6L525.2,186.5L523.5,187.6L521.3,188.2L518.6,189.3L516.3,192.0L514.1,193.7L513.6,196.4L515.2,199.7L515.8,203.0L514.1,205.2L510.8,208.0L506.4,209.7L502.0,211.9L498.7,214.6L496.5,218.5L496.0,222.9L495.4,224.0L496.0,227.3L497.6,232.8L500.9,236.1L505.3,237.2L509.7,238.3L514.1,239.4L518.6,238.3L523.0,236.1L526.2,235.7L527.4,235.5L529.0,235.5L527.4,233.9L524.1,231.7L520.8,228.4L519.1,225.1L519.1,221.2L521.9,219.0L526.3,217.4L530.7,215.2L535.1,212.4L538.4,209.1L541.7,205.2Z" fill="#D63027"/>
<path d="M454.9,328.3L454.4,330.4L454.1,331.7L453.9,331.9L450.8,336.6L449.1,339.1L450.8,341.6L448.3,343.2L445.8,346.5L445.0,349.8L446.6,354.0L452.4,358.9L459.0,364.7L465.6,363.4L475.6,364.7L477.5,369.6L482.2,368.8L488.8,367.2L495.4,366.3L502.0,363.9L508.6,361.4L515.2,357.3L520.2,353.1L525.1,348.2L530.1,344.9L531.7,339.9L533.4,337.4L531.7,339.1L526.8,341.6L521.8,343.2L516.9,344.9L513.6,343.2L511.9,339.9L506.9,336.6L502.0,333.3L501.4,332.4L499.7,329.9L499.1,328.2L499.1,328.1L499.1,321.5L496.9,317.1L493.6,313.8L490.3,313.8L485.9,314.9L480.4,316.0L477.1,314.9L472.7,313.8L468.3,313.2L465.0,314.9L461.7,316.0L458.4,319.3L456.7,323.7L456.2,328.1L456.1,328.5Z" fill="#4573B6"/>
<path d="M477.5,369.6L475.6,364.7L465.6,363.4L459.0,364.7L452.4,358.9L446.6,354.0L440.9,355.6L434.3,358.1L427.6,362.2L421.0,366.3L416.1,368.8L411.1,370.5L407.8,373.8L402.9,375.4L398.7,373.0L396.3,368.0L394.6,363.0L392.1,361.4L388.8,363.0L385.5,359.7L381.4,361.4L377.3,364.7L375.6,371.3L376.4,377.9L373.1,382.9L368.2,384.5L363.2,387.8L359.9,389.5L355.8,386.5L353.3,392.0L357.4,396.1L358.3,402.7L359.9,409.3L364.9,414.3L369.8,417.6L374.8,420.0L378.1,417.6L383.0,414.3L389.6,411.0L394.6,412.6L399.6,415.9L406.2,414.3L412.8,412.6L416.1,411.0L417.7,406.0L421.0,399.4L426.0,395.3L432.6,392.8L440.9,389.5L449.1,386.2L457.4,382.9L465.6,379.6L468.9,377.1L473.9,373.3Z" fill="#4573B6"/>
<path d="M533.4,337.4L531.7,339.9L530.1,344.9L525.1,348.2L520.2,353.1L515.2,357.3L508.6,361.4L502.0,363.9L495.4,366.3L488.8,367.2L482.2,368.8L477.5,369.6L473.9,373.3L468.9,377.1L465.6,379.6L468.9,381.5L473.9,384.5L477.2,386.2L480.5,392.8L483.8,399.4L485.5,406.0L487.1,411.0L486.3,415.9L482.2,420.9L480.5,425.0L478.9,427.5L485.5,425.8L490.4,427.5L493.7,430.0L497.0,428.3L502.0,425.0L506.9,423.3L511.1,420.0L512.7,414.3L515.2,409.3L520.2,402.7L523.5,396.1L525.1,389.5L526.8,384.5L531.7,379.6L535.0,376.3L538.3,371.3L541.6,368.0L545.8,363.0L546.6,359.7L545.8,356.4L544.9,351.5L543.3,346.5L540.0,344.9L536.7,343.2L535.0,339.9Z" fill="#4573B6"/>
<path d="M468.9,381.5L465.6,379.6L457.4,382.9L449.1,386.2L440.9,389.5L432.6,392.8L426.0,395.3L421.0,399.4L417.7,406.0L416.1,411.0L412.8,412.6L406.2,414.3L399.6,415.9L394.6,412.6L389.6,411.0L383.0,414.3L378.1,417.6L374.8,420.0L377.3,425.0L376.4,432.4L372.3,442.3L370.7,445.6L374.0,450.6L375.6,458.9L376.4,467.1L376.3,467.8L375.1,472.5L375.0,472.5L375.0,475.0L382.5,477.0L392.5,478.8L401.2,480.5L406.8,482.4L407.0,482.0L412.5,478.0L415.5,473.8L415.9,472.6L416.0,472.1L417.7,470.4L418.6,467.9L419.4,465.5L424.3,462.2L429.3,458.9L434.3,453.9L440.9,448.9L447.5,444.0L454.1,439.0L462.3,435.7L468.9,430.8L475.6,428.3L478.9,427.5L480.5,425.0L482.2,420.9L486.3,415.9L487.1,411.0L485.5,406.0L483.8,399.4L480.5,392.8L477.2,386.2L473.9,384.5Z" fill="#F4996A"/>
<path d="M488.7,473.7L489.5,474.1L490.1,472.5L488.8,467.1L487.1,457.2L483.8,450.6L482.2,442.3L480.5,432.4L478.9,427.5L475.6,428.3L468.9,430.8L462.3,435.7L454.1,439.0L447.5,444.0L440.9,448.9L434.3,453.9L429.3,458.9L424.3,462.2L419.4,465.5L418.6,467.9L417.7,470.4L416.0,472.1L415.9,472.6L415.5,473.8L412.5,478.0L407.0,482.0L406.8,482.4L407.0,482.5L403.8,490.0L401.2,500.0L403.8,507.5L406.2,513.8L407.5,520.0L415.0,521.2L425.0,522.5L431.2,523.8L435.0,522.5L442.5,520.0L447.5,515.0L453.8,510.0L452.8,504.2L453.1,504.1L458.7,502.8L460.8,500.2L462.5,498.1L464.4,492.5L468.1,488.7L473.7,486.9L474.7,485.0L477.5,481.2L481.2,475.6L483.0,470.9L483.1,470.9Z" fill="#4573B6"/>
<path d="M560.1,440.8L559.3,439.3L557.7,440.0L556.2,440.8L555.4,438.5L554.7,436.2L553.1,434.6L550.0,434.6L547.7,433.9L545.4,431.6L542.3,430.8L540.0,429.2L538.5,426.2L536.2,424.6L533.1,424.2L532.4,424.3L531.1,424.5L530.1,424.2L529.5,424.0L525.1,422.5L520.2,421.7L515.2,419.2L511.1,420.0L506.9,423.3L502.0,425.0L497.0,428.3L493.7,430.0L490.4,427.5L485.5,425.8L478.9,427.5L480.5,432.4L482.2,442.3L483.8,450.6L487.1,457.2L488.8,467.1L490.1,472.5L489.5,474.1L496.2,476.6L503.7,480.3L509.3,478.4L514.9,479.4L520.6,480.3L526.2,479.4L529.3,477.5L530.5,476.8L531.5,476.3L533.1,474.7L533.1,474.4L533.1,472.4L533.9,470.1L536.2,467.8L539.2,465.5L542.3,463.9L543.9,461.6L544.6,458.5L544.3,455.5L543.9,452.4L544.6,449.3L546.2,447.7L547.7,448.5L550.0,449.3L552.4,450.1L551.6,448.5L553.1,446.2L555.4,444.7L557.7,443.1L559.3,442.5L560.4,442.0L560.1,441.1Z" fill="#A3B3BF"/>
<path d="M849.9,224.5L851.5,227.1L853.6,229.2L855.7,231.3L857.3,233.9L858.3,236.0L859.4,238.6L858.8,240.7L857.8,242.8L857.3,244.9L858.8,246.9L860.9,249.0L863.0,251.1L865.1,253.7L867.2,254.8L870.3,254.3L873.5,253.2L876.6,252.7L879.7,253.2L881.8,254.8L885.0,255.3L888.1,255.3L891.3,255.3L894.4,255.8L897.5,257.4L900.7,259.0L903.8,260.5L906.9,262.6L909.0,263.7L911.1,264.2L914.3,264.7L918.5,264.5L919.0,261.6L920.0,258.5L921.1,255.3L922.6,253.2L923.2,251.7L921.1,250.1L918.5,248.0L915.3,245.9L912.2,244.3L909.0,242.8L906.9,240.7L903.8,239.1L902.8,237.0L900.7,238.1L898.6,239.1L895.4,238.1L894.4,235.4L892.3,234.4L890.2,233.9L888.1,232.8L885.0,231.3L882.9,229.7L881.3,228.1L879.2,226.5L876.6,227.1L873.5,227.6L870.3,228.6L867.2,229.2L864.1,228.6L862.0,227.6L859.4,228.1L857.3,226.0L855.7,223.4L853.6,221.8L851.5,222.4Z" fill="#F4996A"/>
<path d="M594.6,258.1L599.0,259.8L603.4,261.4L606.7,262.5L610.0,263.6L613.3,262.5L615.5,258.1L616.6,253.7L616.0,249.3L613.3,247.1L608.9,248.2L606.7,249.3L605.6,246.0L601.2,244.9L596.8,248.2L595.7,252.6Z" fill="#D63027"/>
<path d="M270.0,568.8L278.8,573.8L285.0,570.0L290.0,565.0L295.0,567.5L302.5,570.0L305.0,575.0L308.8,578.8L313.8,576.2L316.2,571.2L322.5,568.8L330.0,566.2L336.2,561.2L342.5,565.0L347.5,568.8L347.8,568.8L352.0,569.8L352.5,567.5L350.0,565.0L348.8,560.0L350.5,556.5L352.5,552.5L349.9,551.0L355.0,542.5L362.5,530.0L372.5,521.2L382.5,515.5L391.2,513.8L398.8,516.2L407.5,520.0L406.2,513.8L403.8,507.5L401.2,500.0L403.8,490.0L407.0,482.5L406.8,482.4L401.2,480.5L392.5,478.8L382.5,477.0L375.0,475.0L371.1,475.5L367.3,476.0L365.0,476.2L357.5,478.8L352.3,479.7L352.5,480.9L350.0,481.2L348.0,481.9L342.5,483.8L330.0,487.5L326.2,486.2L320.0,490.0L312.5,495.0L305.0,501.2L302.5,507.5L300.0,513.8L295.0,517.5L290.0,520.0L285.0,521.2L277.5,522.5L270.0,525.0L267.5,527.5L266.2,535.0L267.5,542.5L266.2,545.0L263.8,550.0L262.5,555.0L261.2,560.0L260.0,565.0Z" fill="#FFFDC0"/>
<path d="M347.8,568.8L347.5,568.8L342.5,565.0L336.2,561.2L330.0,566.2L322.5,568.8L316.2,571.2L313.8,576.2L308.8,578.8L305.0,575.0L302.5,570.0L295.0,567.5L290.0,565.0L285.0,570.0L278.8,573.8L280.0,577.5L277.5,582.5L273.8,587.5L277.5,590.0L278.8,595.0L272.5,600.0L266.2,606.2L263.8,608.8L266.2,615.0L266.2,622.5L268.8,627.5L273.8,631.2L280.0,635.0L285.0,642.5L285.7,645.1L286.2,645.0L292.5,643.8L300.0,647.5L305.0,650.0L312.5,655.0L320.0,662.5L327.5,665.0L337.5,665.0L345.0,663.8L347.5,660.0L343.8,655.0L342.5,648.8L347.5,647.5L349.3,648.4L352.5,650.0L351.8,653.0L355.0,653.8L360.0,656.2L358.8,650.0L360.0,643.0L367.5,638.0L377.5,636.2L388.8,635.0L387.5,631.2L386.2,625.0L382.5,620.0L387.5,615.0L390.0,607.5L387.5,600.0L386.2,592.5L387.5,582.5L388.8,575.5L382.5,575.0L375.0,573.8L365.0,572.5L357.5,571.2L352.4,570.6L352.5,569.9L352.0,569.8Z" fill="#A3B3BF"/>
<path d="M349.3,648.4L347.5,647.5L342.5,648.8L343.8,655.0L347.5,660.0L345.0,663.8L337.5,665.0L327.5,665.0L320.0,662.5L312.5,655.0L305.0,650.0L300.0,647.5L292.5,643.8L286.2,645.0L285.7,645.1L286.2,647.5L290.0,655.0L292.5,662.5L295.0,670.0L293.8,677.5L296.2,685.0L296.7,687.6L297.5,692.5L296.2,700.0L292.5,705.0L291.2,707.5L295.0,710.5L298.8,715.0L302.5,716.2L307.5,715.0L313.8,712.5L320.0,711.5L326.2,713.0L333.8,714.0L337.5,717.0L340.0,720.5L346.2,722.5L353.8,723.8L361.2,722.0L367.0,718.8L372.5,715.0L376.2,712.0L380.0,706.8L386.2,703.2L391.2,703.8L395.0,706.8L398.8,705.5L401.2,700.0L403.0,693.8L403.2,692.6L404.2,687.5L403.3,687.4L403.8,683.8L403.0,679.5L390.0,676.2L380.0,671.2L372.5,667.5L365.0,661.2L360.0,656.2L355.0,653.8L351.8,653.0L352.5,650.0Z" fill="#FFFDC0"/>
<path d="M352.5,552.5L350.5,556.5L348.8,560.0L350.0,565.0L352.5,567.5L352.0,569.8L352.5,569.9L352.4,570.6L357.5,571.2L365.0,572.5L375.0,573.8L382.5,575.0L388.8,575.5L392.5,573.8L400.0,571.2L410.0,568.0L417.5,565.5L425.0,564.5L435.0,565.0L445.0,566.2L450.0,563.8L447.5,557.5L442.5,550.0L438.8,542.5L436.2,536.2L432.5,530.0L431.2,523.8L425.0,522.5L415.0,521.2L407.5,520.0L398.8,516.2L391.2,513.8L382.5,515.5L372.5,521.2L362.5,530.0L355.0,542.5L349.9,551.0Z" fill="#A3B3BF"/>
<path d="M452.8,504.2L453.8,510.0L447.5,515.0L442.5,520.0L435.0,522.5L431.2,523.8L432.5,530.0L436.2,536.2L438.8,542.5L442.5,550.0L447.5,557.5L450.0,563.8L445.0,566.2L435.0,565.0L425.0,564.5L417.5,565.5L422.5,568.8L430.0,571.2L437.5,572.5L445.0,575.0L448.8,577.5L442.5,581.2L436.2,585.5L440.0,590.5L446.2,595.0L453.1,595.0L455.0,595.0L457.5,594.4L458.1,595.3L460.6,593.6L466.2,590.8L471.9,589.9L471.9,586.1L470.0,582.4L466.2,580.5L463.4,576.8L462.5,572.1L465.3,567.4L470.0,563.7L475.6,559.9L481.2,556.2L486.8,552.4L492.5,548.7L496.2,544.9L500.0,541.2L505.6,537.4L511.2,534.6L516.8,533.7L515.9,526.2L514.9,518.7L513.1,515.0L509.3,516.8L505.6,520.6L501.8,518.7L496.2,515.0L492.5,507.5L488.7,503.7L485.0,500.0L481.2,494.4L479.4,488.7L473.7,486.9L468.1,488.7L464.4,492.5L462.5,498.1L460.8,500.2L458.7,502.8L453.1,504.1Z" fill="#F4996A"/>
<path d="M417.5,565.5L410.0,568.0L400.0,571.2L392.5,573.8L388.8,575.5L387.5,582.5L386.2,592.5L387.5,600.0L390.0,607.5L387.5,615.0L382.5,620.0L386.2,625.0L387.5,631.2L388.8,635.0L400.0,624.5L410.0,621.2L420.0,618.0L432.5,611.2L442.5,602.5L446.2,595.0L440.0,590.5L436.2,585.5L442.5,581.2L448.8,577.5L445.0,575.0L437.5,572.5L430.0,571.2L422.5,568.8Z" fill="#FFFDC0"/>
<path d="M455.0,595.0L453.1,595.0L446.2,595.0L442.5,602.5L432.5,611.2L420.0,618.0L410.0,621.2L400.0,624.5L388.8,635.0L377.5,636.2L367.5,638.0L360.0,643.0L358.8,650.0L360.0,656.2L365.0,661.2L372.5,667.5L380.0,671.2L390.0,676.2L403.0,679.5L410.0,682.0L417.5,680.8L425.0,680.5L431.2,682.0L431.7,685.0L432.0,685.0L432.5,681.2L433.0,673.8L436.2,667.5L438.8,666.0L442.5,663.8L442.2,662.6L442.5,662.5L447.5,660.0L452.5,656.2L458.8,652.5L460.0,646.2L461.2,641.2L460.5,637.5L458.7,633.0L466.2,628.3L473.7,625.5L477.5,622.1L481.2,618.9L486.8,616.1L491.5,612.4L492.5,606.8L488.7,601.1L483.1,595.5L477.5,591.8L471.9,589.9L466.2,590.8L460.6,593.6L458.1,595.3L457.5,594.4Z" fill="#FFFDC0"/>
<path d="M430.0,687.5L431.4,691.9L431.3,692.5L431.6,692.4L432.0,693.8L435.5,701.2L438.8,708.0L442.0,714.5L441.3,720.8L437.5,720.4L440.0,721.2L441.7,723.8L442.5,725.0L443.8,731.2L446.2,736.2L450.0,738.8L453.8,742.5L457.5,745.0L462.5,743.8L470.0,743.8L477.5,742.5L482.5,741.2L487.5,738.8L492.5,736.2L497.5,737.5L502.5,736.2L507.5,732.5L512.5,730.0L520.0,727.5L526.2,726.2L532.5,725.0L537.5,722.5L543.0,723.0L540.0,720.0L532.5,715.0L525.0,707.5L517.7,702.6L517.5,702.5L510.8,699.2L507.5,696.2L503.8,692.5L498.8,687.5L495.0,680.0L492.5,675.0L487.5,673.8L482.5,675.0L477.5,672.5L472.5,667.5L467.5,662.5L462.5,657.5L458.8,652.5L452.5,656.2L447.5,660.0L442.5,662.5L442.2,662.6L442.5,663.8L438.8,666.0L436.2,667.5L433.0,673.8L432.5,681.2L432.0,685.0L431.7,685.0L432.0,687.2Z" fill="#FFFDC0"/>
<path d="M652.5,501.2L645.0,507.5L643.8,510.5L647.5,516.2L652.5,521.2L660.0,527.5L667.5,528.8L672.5,530.0L675.0,532.5L682.5,531.2L690.0,530.0L695.0,525.0L700.0,523.0L706.2,524.5L711.2,527.5L720.0,526.2L730.0,523.8L737.7,522.8L737.8,524.0L740.0,524.2L742.2,524.5L746.6,525.3L753.2,527.5L759.8,529.7L766.4,531.9L773.0,529.7L779.6,528.6L785.1,529.7L786.2,530.8L784.0,527.5L781.8,523.1L778.5,517.6L775.2,512.1L773.0,505.5L771.9,498.9L773.0,492.3L768.6,490.1L764.2,486.8L759.8,484.6L755.4,482.4L751.0,480.2L748.8,481.3L744.8,488.2L744.4,489.0L740.0,491.2L737.8,491.6L737.6,490.6L730.0,492.5L720.0,493.8L710.0,493.8L701.2,494.9L700.0,495.0L697.5,495.5L697.2,494.5L695.5,494.9L691.1,496.9L686.7,499.1L681.2,496.9L675.7,493.6L670.1,490.3L664.6,487.0L663.5,491.4L662.4,495.8L661.8,498.6L657.0,497.5Z" fill="#FFFDC0"/>
<path d="M652.5,501.2L657.0,497.5L661.8,498.6L662.4,495.8L663.5,491.4L664.6,487.0L665.7,482.6L665.2,477.1L663.5,469.4L661.3,463.9L656.9,457.3L652.5,451.8L647.0,446.0L641.5,441.9L638.2,439.1L634.9,439.1L629.9,440.8L626.1,441.3L620.6,441.9L618.4,444.1L617.8,448.5L617.3,452.9L615.1,455.1L610.7,457.3L606.3,458.4L601.9,460.6L598.6,462.2L595.2,462.8L591.9,463.9L588.6,465.0L584.2,466.1L578.7,466.6L575.4,467.2L573.8,467.4L572.1,471.0L568.8,476.0L565.5,479.3L563.3,483.7L562.2,486.7L561.7,488.1L561.4,488.4L560.2,490.1L558.9,492.0L557.7,491.6L556.2,496.2L558.0,503.7L557.1,512.2L550.5,515.9L548.7,520.6L550.5,526.2L556.2,530.9L563.7,533.7L568.3,534.6L571.1,529.9L574.9,524.3L576.8,518.7L578.6,515.0L586.1,514.0L593.6,516.8L598.0,518.0L602.1,519.1L602.4,520.9L607.5,520.0L615.0,516.2L622.5,513.8L630.0,510.0L637.5,511.2L643.8,510.5L645.0,507.5Z" fill="#FFFDC0"/>
<path d="M602.1,519.1L598.0,518.0L593.6,516.8L586.1,514.0L578.6,515.0L576.8,518.7L574.9,524.3L571.1,529.9L568.3,534.6L565.5,538.4L561.8,542.1L558.0,543.6L559.9,548.7L561.8,554.3L563.7,558.0L567.4,561.8L571.1,565.5L572.6,569.8L573.0,571.2L573.5,572.5L574.9,572.7L574.9,573.3L575.4,576.6L574.3,581.0L573.8,586.5L573.2,589.8L572.1,591.5L576.5,592.0L579.8,593.1L584.2,593.1L588.6,593.7L593.0,593.7L597.4,594.2L599.6,597.5L601.8,599.7L605.1,600.8L606.2,604.1L606.2,607.4L607.3,610.7L610.6,612.9L617.2,612.4L622.8,612.4L627.2,614.0L630.5,616.2L633.8,619.5L637.1,622.3L641.5,623.4L645.3,622.8L643.7,620.6L642.6,617.3L643.7,612.9L644.8,608.5L645.3,604.1L644.8,599.7L645.9,596.4L648.1,593.1L651.4,589.8L654.7,585.4L658.0,581.0L659.6,576.6L660.1,572.9L656.9,572.5L657.4,568.4L657.5,567.5L660.0,557.5L670.0,555.0L675.0,548.8L671.2,540.0L675.0,532.5L672.5,530.0L667.5,528.8L660.0,527.5L652.5,521.2L647.5,516.2L643.8,510.5L637.5,511.2L630.0,510.0L622.5,513.8L615.0,516.2L607.5,520.0L602.4,520.9Z" fill="#A3B3BF"/>
<path d="M656.9,572.5L660.1,572.9L659.6,576.6L658.0,581.0L654.7,585.4L651.4,589.8L648.1,593.1L645.9,596.4L644.8,599.7L645.3,604.1L644.8,608.5L643.7,612.9L642.6,617.3L643.7,620.6L645.3,622.8L648.1,621.7L651.4,621.2L656.9,620.6L661.3,620.6L665.7,621.2L667.9,622.3L670.1,622.8L672.3,622.3L674.5,620.6L675.6,617.3L676.7,614.0L677.8,610.7L678.0,610.2L678.9,607.4L681.1,603.0L680.0,602.6L680.0,602.5L682.5,597.5L687.5,595.0L692.5,590.0L697.5,585.0L701.2,580.0L702.5,572.5L700.0,569.5L692.5,568.8L687.5,566.2L690.0,565.0L695.0,566.2L700.0,566.2L702.5,563.8L706.2,558.8L710.0,555.0L713.8,551.2L717.5,550.0L720.0,548.8L725.0,546.2L722.5,542.5L718.8,537.5L715.0,532.5L711.2,527.5L706.2,524.5L700.0,523.0L695.0,525.0L690.0,530.0L682.5,531.2L675.0,532.5L671.2,540.0L675.0,548.8L670.0,555.0L660.0,557.5L657.5,567.5L657.4,568.4Z" fill="#FFFDC0"/>
<path d="M720.0,526.2L711.2,527.5L715.0,532.5L718.8,537.5L722.5,542.5L725.0,546.2L722.5,552.5L721.2,556.2L723.8,557.5L726.2,561.2L728.0,568.8L732.5,566.2L737.5,563.8L737.5,563.8L737.6,563.8L740.3,564.2L742.5,564.5L749.9,569.3L756.9,571.1L758.7,564.5L763.1,562.3L769.7,564.9L776.3,569.7L782.9,573.7L787.3,571.9L792.8,566.7L797.7,561.6L799.9,555.7L795.0,552.8L790.2,548.4L785.8,542.9L784.0,535.2L786.2,530.8L785.1,529.7L779.6,528.6L773.0,529.7L766.4,531.9L759.8,529.7L753.2,527.5L746.6,525.3L742.2,524.5L740.0,524.2L737.8,524.0L737.7,522.8L730.0,523.8Z" fill="#4573B6"/>
<path d="M732.5,566.2L728.0,568.8L728.0,572.5L730.0,577.5L733.8,582.5L737.5,587.5L740.0,592.5L742.5,595.0L745.0,592.5L748.8,587.5L750.0,582.5L751.1,580.3L753.2,581.4L754.5,578.3L755.4,575.9L756.9,571.1L749.9,569.3L742.5,564.5L740.3,564.2L737.6,563.8L737.5,563.8L737.5,563.8Z" fill="#4573B6"/>
<path d="M705.0,595.0L705.0,600.0L706.2,605.0L708.8,610.0L712.5,611.2L717.5,610.0L722.5,607.5L727.5,605.0L732.5,602.5L731.2,598.8L727.5,595.0L726.2,590.0L727.5,585.0L725.0,582.5L720.0,582.5L717.5,585.0L713.8,590.0L710.0,592.5Z" fill="#4573B6"/>
<path d="M558.9,492.0L560.2,490.1L561.4,488.4L561.7,488.1L562.2,486.7L563.3,483.7L565.5,479.3L568.8,476.0L572.1,471.0L573.8,467.4L571.6,466.1L568.8,465.5L565.5,465.8L562.7,465.1L562.2,465.0L560.4,464.4L559.2,463.5L557.7,462.4L555.4,459.3L553.9,455.5L553.1,452.4L552.4,450.1L550.0,449.3L547.7,448.5L546.2,447.7L544.6,449.3L543.9,452.4L544.3,455.5L544.6,458.5L543.9,461.6L542.3,463.9L539.2,465.5L536.2,467.8L533.9,470.1L533.1,472.4L533.1,474.4L533.1,474.7L531.5,476.3L530.5,476.8L529.3,477.5L526.2,479.4L520.6,480.3L514.9,479.4L509.3,478.4L503.7,480.3L496.2,476.6L489.5,474.1L488.7,473.7L483.1,470.9L483.0,470.9L481.2,475.6L477.5,481.2L474.7,485.0L473.7,486.9L479.4,488.7L481.2,494.4L485.0,500.0L488.7,503.7L492.5,507.5L496.2,515.0L501.8,518.7L505.6,520.6L509.3,516.8L513.1,515.0L514.9,518.7L515.9,526.2L516.8,533.7L522.4,537.1L528.1,535.2L533.7,534.6L537.4,537.4L544.9,541.2L552.4,544.0L558.0,543.6L561.8,542.1L565.5,538.4L568.3,534.6L563.7,533.7L556.2,530.9L550.5,526.2L548.7,520.6L550.5,515.9L557.1,512.2L558.0,503.7L556.2,496.2L557.7,491.6Z" fill="#FFFDC0"/>
<path d="M544.9,541.2L537.4,537.4L533.7,534.6L528.1,535.2L522.4,537.1L516.8,533.7L511.2,534.6L505.6,537.4L500.0,541.2L496.2,544.9L492.5,548.7L486.8,552.4L481.2,556.2L475.6,559.9L470.0,563.7L465.3,567.4L462.5,572.1L463.4,576.8L466.2,580.5L470.0,582.4L471.9,586.1L471.9,589.9L477.5,591.8L483.1,595.5L488.7,601.1L492.5,606.8L491.5,612.4L486.8,616.1L481.2,618.9L477.5,622.1L479.4,624.6L486.8,625.5L494.3,626.4L503.7,624.6L513.1,623.2L522.4,623.6L531.8,625.1L538.4,628.3L540.2,630.2L543.0,627.4L548.7,625.5L554.3,623.6L559.0,619.9L559.9,614.2L560.6,610.1L560.8,608.7L561.1,608.5L563.3,606.3L563.5,606.0L565.5,603.0L567.7,599.7L569.4,596.4L569.9,593.7L572.1,591.5L573.2,589.8L573.8,586.5L574.3,581.0L575.4,576.6L574.9,573.3L574.9,572.7L573.5,572.5L573.0,571.2L572.6,569.8L571.1,565.5L567.4,561.8L563.7,558.0L561.8,554.3L559.9,548.7L558.0,543.6L552.4,544.0Z" fill="#4573B6"/>
<path d="M560.8,608.7L560.6,610.1L559.9,614.2L559.0,619.9L559.7,620.9L560.5,621.9L562.9,622.5L564.4,622.8L568.8,624.5L573.2,625.0L579.8,625.0L585.3,626.1L587.5,628.4L587.5,631.1L589.7,632.8L593.0,635.0L596.3,637.2L600.7,637.2L605.1,636.1L608.4,633.9L612.8,632.8L617.2,632.8L620.0,633.9L621.7,636.1L623.9,638.3L628.3,639.4L631.6,641.6L634.9,643.8L638.2,646.0L641.5,648.2L642.6,649.3L644.8,648.2L648.1,646.0L652.5,643.8L654.7,641.6L654.7,638.3L655.8,635.0L655.2,631.7L653.6,629.5L651.4,627.2L649.2,626.1L647.0,624.5L645.3,622.8L641.5,623.4L637.1,622.3L633.8,619.5L630.5,616.2L627.2,614.0L622.8,612.4L617.2,612.4L610.6,612.9L607.3,610.7L606.2,607.4L606.2,604.1L605.1,600.8L601.8,599.7L599.6,597.5L597.4,594.2L593.0,593.7L588.6,593.7L584.2,593.1L579.8,593.1L576.5,592.0L572.1,591.5L569.9,593.7L569.4,596.4L567.7,599.7L565.5,603.0L563.5,606.0L563.3,606.3L561.1,608.5Z" fill="#F4996A"/>
<path d="M536.2,638.8L535.2,640.8L532.5,646.2L531.2,653.8L535.0,658.8L541.2,663.8L543.8,666.2L552.5,666.2L557.5,666.2L565.0,671.2L572.5,676.2L582.5,673.8L588.2,668.1L588.8,667.5L591.7,669.2L593.0,666.9L595.2,664.7L597.4,663.0L599.6,662.5L601.8,663.6L604.0,664.7L606.2,665.8L607.8,667.9L608.3,667.5L609.8,668.4L612.5,670.0L620.0,673.8L623.8,671.2L628.6,667.6L631.0,670.7L631.8,668.5L632.7,665.8L634.3,662.5L636.0,659.2L638.2,655.9L640.4,652.6L642.6,649.3L641.5,648.2L638.2,646.0L634.9,643.8L631.6,641.6L628.3,639.4L623.9,638.3L621.7,636.1L620.0,633.9L617.2,632.8L612.8,632.8L608.4,633.9L605.1,636.1L600.7,637.2L596.3,637.2L593.0,635.0L589.7,632.8L587.5,631.1L587.5,628.4L585.3,626.1L579.8,625.0L573.2,625.0L568.8,624.5L564.4,622.8L562.9,622.5L560.5,621.9L559.7,620.9L559.0,619.9L554.3,623.6L548.7,625.5L543.0,627.4L540.2,630.2L538.4,634.9L537.6,637.7L536.9,637.5Z" fill="#A3B3BF"/>
<path d="M540.2,630.2L538.4,628.3L531.8,625.1L522.4,623.6L513.1,623.2L503.7,624.6L494.3,626.4L486.8,625.5L479.4,624.6L477.5,622.1L473.7,625.5L466.2,628.3L458.7,633.0L460.5,637.5L461.2,641.2L460.0,646.2L458.8,652.5L462.5,657.5L467.5,662.5L472.5,667.5L477.5,672.5L482.5,675.0L487.5,673.8L492.5,675.0L495.0,680.0L498.8,687.5L503.8,692.5L507.5,696.2L510.8,699.2L513.8,697.0L517.5,692.5L518.8,685.0L521.2,677.5L527.5,673.8L537.5,668.8L543.8,666.2L541.2,663.8L535.0,658.8L531.2,653.8L532.5,646.2L535.2,640.8L536.2,638.8L536.9,637.5L537.6,637.7L538.4,634.9Z" fill="#A3B3BF"/>
<path d="M687.0,624.0L689.0,627.0L693.0,628.5L697.0,629.8L700.0,628.0L704.0,627.0L707.5,626.0L704.0,622.5L700.0,621.5L695.0,621.2L690.0,622.0Z" fill="#FFFDC0"/>
<path d="M588.2,668.1L582.5,673.8L572.5,676.2L565.0,671.2L557.5,666.2L552.5,666.2L543.8,666.2L537.5,668.8L527.5,673.8L521.2,677.5L518.8,685.0L517.5,692.5L513.8,697.0L510.8,699.2L517.5,702.5L517.7,702.6L520.0,703.8L530.0,704.5L540.0,703.8L550.0,702.5L560.0,700.5L570.0,698.8L580.0,697.5L590.0,696.2L600.0,694.5L606.2,695.0L608.8,690.0L615.0,687.0L620.0,683.8L619.5,678.8L620.0,673.8L612.5,670.0L609.8,668.4L608.3,667.5L607.8,667.9L606.2,665.8L604.0,664.7L601.8,663.6L599.6,662.5L597.4,663.0L595.2,664.7L593.0,666.9L591.7,669.2L588.8,667.5Z" fill="#A3B3BF"/>
<path d="M517.7,702.6L525.0,707.5L532.5,715.0L540.0,720.0L543.0,723.0L550.0,728.8L556.2,727.5L560.0,731.2L562.5,736.2L566.2,742.5L570.0,750.0L571.2,757.5L573.8,763.8L576.2,768.0L580.0,770.0L583.8,767.0L587.5,765.0L591.2,761.2L591.2,755.0L595.0,750.0L598.0,745.0L595.5,740.0L594.5,736.2L597.5,731.2L602.5,730.0L607.5,732.5L612.5,734.5L616.2,733.8L618.0,728.0L617.0,722.5L620.0,717.5L622.5,714.5L619.5,712.0L615.0,710.5L611.2,707.5L608.8,702.5L607.0,697.5L606.2,695.0L600.0,694.5L590.0,696.2L580.0,697.5L570.0,698.8L560.0,700.5L550.0,702.5L540.0,703.8L530.0,704.5L520.0,703.8Z" fill="#A3B3BF"/>
<path d="M282.0,430.7L277.9,434.2L276.9,441.8L279.4,449.4L284.5,454.5L289.6,459.5L294.6,467.0L298.0,471.0L302.2,474.7L304.7,469.7L306.0,466.0L307.3,462.0L308.0,457.0L308.3,452.0L306.0,447.0L302.2,441.8L299.0,438.0L294.6,434.2L288.0,431.5Z" fill="#F4996A"/>
<path d="M815.4,336.8L812.1,339.0L808.7,340.3L804.8,342.3L800.8,344.9L796.8,346.5L792.9,348.4L788.9,350.2L784.9,352.2L790.2,354.2L795.5,356.8L800.8,360.2L806.1,362.1L810.1,363.5L812.1,367.4L813.4,372.7L814.7,378.0L816.0,383.3L818.0,385.9L820.6,386.6L824.6,384.6L827.3,382.0L828.6,379.3L825.9,376.7L824.6,373.4L825.9,371.4L828.6,374.0L831.2,376.7L831.2,380.6L829.9,384.6L828.6,388.6L827.3,392.5L826.6,396.5L828.6,400.5L832.5,404.4L836.5,406.4L840.5,406.8L844.4,405.1L848.4,401.8L852.4,398.5L855.0,394.5L857.0,391.2L859.6,388.6L860.3,386.6L857.7,385.3L853.7,384.0L851.1,382.0L849.1,379.3L849.7,376.7L848.4,374.0L847.1,371.4L845.8,368.7L845.1,366.1L847.1,364.1L851.1,362.1L853.7,360.2L856.3,356.8L857.0,353.5L855.0,351.6L853.7,348.9L852.4,345.6L849.7,343.6L847.7,342.3L848.4,340.3L851.1,339.7L853.0,337.0L854.4,333.7L857.0,332.4L859.6,330.4L860.3,328.4L858.3,326.4L855.7,324.5L853.0,323.1L849.7,321.2L846.4,320.5L843.1,322.5L839.2,324.5L835.2,325.8L831.2,326.4L827.3,327.8L823.3,331.1L819.3,333.7ZM816.0,337.7L820.6,338.6L825.9,339.4L832.5,339.4L835.8,339.7L832.5,341.0L827.9,342.0L825.3,344.3L824.3,347.6L822.6,350.9L820.0,351.3L819.1,347.6L818.3,343.0L817.3,339.7Z" fill="#A3B3BF"/>
<path d="M816.0,337.7L817.3,339.7L818.3,343.0L819.1,347.6L820.0,351.3L822.6,350.9L824.3,347.6L825.3,344.3L827.9,342.0L832.5,341.0L835.8,339.7L832.5,339.4L825.9,339.4L820.6,338.6Z" fill="#ffffff"/>
<path d="M876.6,203.0L878.7,203.8L881.8,205.1L885.0,206.7L888.1,208.2L891.3,209.3L894.4,209.8L897.5,209.8L899.1,211.4L900.7,212.4L901.7,210.3L900.7,208.2L901.7,206.2L902.8,204.6L902.2,202.5L903.8,200.9L904.9,199.4L902.8,198.3L901.7,196.7L900.7,194.6L898.6,195.2L897.0,194.6L895.4,193.6L893.9,194.1L891.3,195.7L888.1,196.2L885.0,196.7L881.8,197.3L878.7,199.9Z" fill="#4573B6"/>
</g>
<rect x="113.2" y="27.6" width="892.8" height="808.4" fill="none" stroke="#000" stroke-width="3.2"/>
<line x1="100" y1="73.2" x2="113" y2="73.2" stroke="#000" stroke-width="3"/>
<text transform="translate(97.6,81.7) scale(1,1.05)" text-anchor="end" class="ax">31° N</text>
<line x1="100" y1="255.2" x2="113" y2="255.2" stroke="#000" stroke-width="3"/>
<text transform="translate(97.6,263.8) scale(1,1.05)" text-anchor="end" class="ax">30° N</text>
<line x1="100" y1="437.3" x2="113" y2="437.3" stroke="#000" stroke-width="3"/>
<text transform="translate(97.6,445.8) scale(1,1.05)" text-anchor="end" class="ax">29° N</text>
<line x1="100" y1="619.4" x2="113" y2="619.4" stroke="#000" stroke-width="3"/>
<text transform="translate(97.6,627.9) scale(1,1.05)" text-anchor="end" class="ax">28° N</text>
<line x1="100" y1="801.4" x2="113" y2="801.4" stroke="#000" stroke-width="3"/>
<text transform="translate(97.6,809.9) scale(1,1.05)" text-anchor="end" class="ax">27° N</text>
<line x1="134.1" y1="836" x2="134.1" y2="849.5" stroke="#000" stroke-width="3"/>
<text transform="translate(134.1,877.8) scale(1,1.05)" text-anchor="middle" class="ax">118° E</text>
<line x1="316.1" y1="836" x2="316.1" y2="849.5" stroke="#000" stroke-width="3"/>
<text transform="translate(316.1,877.8) scale(1,1.05)" text-anchor="middle" class="ax">119° E</text>
<line x1="498.1" y1="836" x2="498.1" y2="849.5" stroke="#000" stroke-width="3"/>
<text transform="translate(498.1,877.8) scale(1,1.05)" text-anchor="middle" class="ax">120° E</text>
<line x1="680.1" y1="836" x2="680.1" y2="849.5" stroke="#000" stroke-width="3"/>
<text transform="translate(680.1,877.8) scale(1,1.05)" text-anchor="middle" class="ax">121° E</text>
<line x1="862.1" y1="836" x2="862.1" y2="849.5" stroke="#000" stroke-width="3"/>
<text transform="translate(862.1,877.8) scale(1,1.05)" text-anchor="middle" class="ax">122° E</text>
<rect x="1145.2" y="27.6" width="892.8" height="808.4" fill="none" stroke="#000" stroke-width="3.2"/>
<line x1="1132" y1="73.2" x2="1145" y2="73.2" stroke="#000" stroke-width="3"/>
<text transform="translate(1129.6,81.7) scale(1,1.05)" text-anchor="end" class="ax">31° N</text>
<line x1="1132" y1="255.2" x2="1145" y2="255.2" stroke="#000" stroke-width="3"/>
<text transform="translate(1129.6,263.8) scale(1,1.05)" text-anchor="end" class="ax">30° N</text>
<line x1="1132" y1="437.3" x2="1145" y2="437.3" stroke="#000" stroke-width="3"/>
<text transform="translate(1129.6,445.8) scale(1,1.05)" text-anchor="end" class="ax">29° N</text>
<line x1="1132" y1="619.4" x2="1145" y2="619.4" stroke="#000" stroke-width="3"/>
<text transform="translate(1129.6,627.9) scale(1,1.05)" text-anchor="end" class="ax">28° N</text>
<line x1="1132" y1="801.4" x2="1145" y2="801.4" stroke="#000" stroke-width="3"/>
<text transform="translate(1129.6,809.9) scale(1,1.05)" text-anchor="end" class="ax">27° N</text>
<line x1="1166.1" y1="836" x2="1166.1" y2="849.5" stroke="#000" stroke-width="3"/>
<text transform="translate(1166.1,877.8) scale(1,1.05)" text-anchor="middle" class="ax">118° E</text>
<line x1="1348.1" y1="836" x2="1348.1" y2="849.5" stroke="#000" stroke-width="3"/>
<text transform="translate(1348.1,877.8) scale(1,1.05)" text-anchor="middle" class="ax">119° E</text>
<line x1="1530.1" y1="836" x2="1530.1" y2="849.5" stroke="#000" stroke-width="3"/>
<text transform="translate(1530.1,877.8) scale(1,1.05)" text-anchor="middle" class="ax">120° E</text>
<line x1="1712.1" y1="836" x2="1712.1" y2="849.5" stroke="#000" stroke-width="3"/>
<text transform="translate(1712.1,877.8) scale(1,1.05)" text-anchor="middle" class="ax">121° E</text>
<line x1="1894.1" y1="836" x2="1894.1" y2="849.5" stroke="#000" stroke-width="3"/>
<text transform="translate(1894.1,877.8) scale(1,1.05)" text-anchor="middle" class="ax">122° E</text>
<text x="169" y="104.3" class="pl">(a)</text>
<text x="1201" y="104.3" class="pl">(b)</text>
<text x="686" y="643.6" class="lt" textLength="313" lengthAdjust="spacing">Employment and income</text>
<rect x="737.0" y="659.0" width="38.5" height="18.3" fill="#4573B6" stroke="#707070" stroke-width="1"/>
<text x="781.8" y="678.5" class="ll" textLength="117.5" lengthAdjust="spacing">[-2.5,-1.4)</text>
<rect x="737.0" y="696.2" width="38.5" height="18.3" fill="#A3B3BF" stroke="#707070" stroke-width="1"/>
<text x="781.8" y="715.7" class="ll" textLength="117.5" lengthAdjust="spacing">[-1.4,-0.4)</text>
<rect x="737.0" y="733.4" width="38.5" height="18.3" fill="#FFFDC0" stroke="#707070" stroke-width="1"/>
<text x="781.8" y="752.9" class="ll" textLength="117.5" lengthAdjust="spacing">[-0.4,-0.3)</text>
<rect x="737.0" y="770.6" width="38.5" height="18.3" fill="#F4996A" stroke="#707070" stroke-width="1"/>
<text x="781.8" y="790.1" class="ll" textLength="98" lengthAdjust="spacing">[0.3,1.0)</text>
<rect x="737.0" y="807.8" width="38.5" height="18.3" fill="#D63027" stroke="#707070" stroke-width="1"/>
<text x="781.8" y="827.3" class="ll" textLength="98" lengthAdjust="spacing">[1.0,1.8]</text>
<text x="1833.5" y="615.7" class="lt" textLength="125" lengthAdjust="spacing">Education</text>
<rect x="1833.7" y="634.1" width="40" height="19" fill="#4573B6" stroke="#707070" stroke-width="1"/>
<text x="1880.5" y="653.6" class="ll" textLength="117" lengthAdjust="spacing">[-1.3,-0.7)</text>
<rect x="1833.7" y="672.4" width="40" height="19" fill="#A3B3BF" stroke="#707070" stroke-width="1"/>
<text x="1880.5" y="691.9" class="ll" textLength="117" lengthAdjust="spacing">[-0.7,-0.2)</text>
<rect x="1833.7" y="710.6" width="40" height="19" fill="#FFFDC0" stroke="#707070" stroke-width="1"/>
<text x="1880.5" y="730.1" class="ll" textLength="107" lengthAdjust="spacing">[-0.2,0.3)</text>
<rect x="1833.7" y="748.9" width="40" height="19" fill="#F4996A" stroke="#707070" stroke-width="1"/>
<text x="1880.5" y="768.4" class="ll" textLength="98" lengthAdjust="spacing">[0.3,2.0)</text>
<rect x="1833.7" y="787.1" width="40" height="19" fill="#D63027" stroke="#707070" stroke-width="1"/>
<text x="1880.5" y="806.6" class="ll" textLength="98" lengthAdjust="spacing">[2.0,4.5]</text>
</svg>
</body></html>
